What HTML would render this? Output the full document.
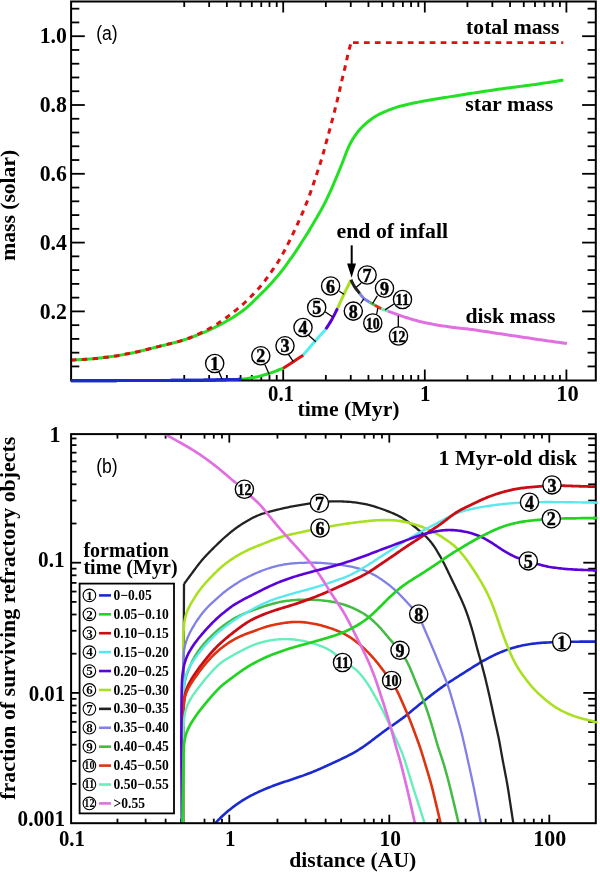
<!DOCTYPE html>
<html><head><meta charset="utf-8"><title>Mass evolution and surviving refractory objects</title>
<style>html,body{margin:0;padding:0;background:#fff;}body{width:600px;height:872px;overflow:hidden;font-family:"Liberation Serif",serif;}svg{display:block;will-change:transform;}</style>
</head><body>
<svg width="600" height="872" viewBox="0 0 600 872"><line x1="184.23" y1="380.50" x2="184.23" y2="375.00" stroke="#000" stroke-width="1.8" />
<line x1="184.23" y1="1.50" x2="184.23" y2="7.00" stroke="#000" stroke-width="1.8" />
<line x1="209.16" y1="380.50" x2="209.16" y2="375.00" stroke="#000" stroke-width="1.8" />
<line x1="209.16" y1="1.50" x2="209.16" y2="7.00" stroke="#000" stroke-width="1.8" />
<line x1="226.85" y1="380.50" x2="226.85" y2="375.00" stroke="#000" stroke-width="1.8" />
<line x1="226.85" y1="1.50" x2="226.85" y2="7.00" stroke="#000" stroke-width="1.8" />
<line x1="240.57" y1="380.50" x2="240.57" y2="375.00" stroke="#000" stroke-width="1.8" />
<line x1="240.57" y1="1.50" x2="240.57" y2="7.00" stroke="#000" stroke-width="1.8" />
<line x1="251.79" y1="380.50" x2="251.79" y2="375.00" stroke="#000" stroke-width="1.8" />
<line x1="251.79" y1="1.50" x2="251.79" y2="7.00" stroke="#000" stroke-width="1.8" />
<line x1="261.27" y1="380.50" x2="261.27" y2="375.00" stroke="#000" stroke-width="1.8" />
<line x1="261.27" y1="1.50" x2="261.27" y2="7.00" stroke="#000" stroke-width="1.8" />
<line x1="269.48" y1="380.50" x2="269.48" y2="375.00" stroke="#000" stroke-width="1.8" />
<line x1="269.48" y1="1.50" x2="269.48" y2="7.00" stroke="#000" stroke-width="1.8" />
<line x1="276.72" y1="380.50" x2="276.72" y2="375.00" stroke="#000" stroke-width="1.8" />
<line x1="276.72" y1="1.50" x2="276.72" y2="7.00" stroke="#000" stroke-width="1.8" />
<line x1="283.20" y1="380.50" x2="283.20" y2="369.50" stroke="#000" stroke-width="1.8" />
<line x1="283.20" y1="1.50" x2="283.20" y2="12.50" stroke="#000" stroke-width="1.8" />
<line x1="325.83" y1="380.50" x2="325.83" y2="375.00" stroke="#000" stroke-width="1.8" />
<line x1="325.83" y1="1.50" x2="325.83" y2="7.00" stroke="#000" stroke-width="1.8" />
<line x1="350.76" y1="380.50" x2="350.76" y2="375.00" stroke="#000" stroke-width="1.8" />
<line x1="350.76" y1="1.50" x2="350.76" y2="7.00" stroke="#000" stroke-width="1.8" />
<line x1="368.45" y1="380.50" x2="368.45" y2="375.00" stroke="#000" stroke-width="1.8" />
<line x1="368.45" y1="1.50" x2="368.45" y2="7.00" stroke="#000" stroke-width="1.8" />
<line x1="382.17" y1="380.50" x2="382.17" y2="375.00" stroke="#000" stroke-width="1.8" />
<line x1="382.17" y1="1.50" x2="382.17" y2="7.00" stroke="#000" stroke-width="1.8" />
<line x1="393.39" y1="380.50" x2="393.39" y2="375.00" stroke="#000" stroke-width="1.8" />
<line x1="393.39" y1="1.50" x2="393.39" y2="7.00" stroke="#000" stroke-width="1.8" />
<line x1="402.87" y1="380.50" x2="402.87" y2="375.00" stroke="#000" stroke-width="1.8" />
<line x1="402.87" y1="1.50" x2="402.87" y2="7.00" stroke="#000" stroke-width="1.8" />
<line x1="411.08" y1="380.50" x2="411.08" y2="375.00" stroke="#000" stroke-width="1.8" />
<line x1="411.08" y1="1.50" x2="411.08" y2="7.00" stroke="#000" stroke-width="1.8" />
<line x1="418.32" y1="380.50" x2="418.32" y2="375.00" stroke="#000" stroke-width="1.8" />
<line x1="418.32" y1="1.50" x2="418.32" y2="7.00" stroke="#000" stroke-width="1.8" />
<line x1="424.80" y1="380.50" x2="424.80" y2="369.50" stroke="#000" stroke-width="1.8" />
<line x1="424.80" y1="1.50" x2="424.80" y2="12.50" stroke="#000" stroke-width="1.8" />
<line x1="467.43" y1="380.50" x2="467.43" y2="375.00" stroke="#000" stroke-width="1.8" />
<line x1="467.43" y1="1.50" x2="467.43" y2="7.00" stroke="#000" stroke-width="1.8" />
<line x1="492.36" y1="380.50" x2="492.36" y2="375.00" stroke="#000" stroke-width="1.8" />
<line x1="492.36" y1="1.50" x2="492.36" y2="7.00" stroke="#000" stroke-width="1.8" />
<line x1="510.05" y1="380.50" x2="510.05" y2="375.00" stroke="#000" stroke-width="1.8" />
<line x1="510.05" y1="1.50" x2="510.05" y2="7.00" stroke="#000" stroke-width="1.8" />
<line x1="523.77" y1="380.50" x2="523.77" y2="375.00" stroke="#000" stroke-width="1.8" />
<line x1="523.77" y1="1.50" x2="523.77" y2="7.00" stroke="#000" stroke-width="1.8" />
<line x1="534.99" y1="380.50" x2="534.99" y2="375.00" stroke="#000" stroke-width="1.8" />
<line x1="534.99" y1="1.50" x2="534.99" y2="7.00" stroke="#000" stroke-width="1.8" />
<line x1="544.47" y1="380.50" x2="544.47" y2="375.00" stroke="#000" stroke-width="1.8" />
<line x1="544.47" y1="1.50" x2="544.47" y2="7.00" stroke="#000" stroke-width="1.8" />
<line x1="552.68" y1="380.50" x2="552.68" y2="375.00" stroke="#000" stroke-width="1.8" />
<line x1="552.68" y1="1.50" x2="552.68" y2="7.00" stroke="#000" stroke-width="1.8" />
<line x1="559.92" y1="380.50" x2="559.92" y2="375.00" stroke="#000" stroke-width="1.8" />
<line x1="559.92" y1="1.50" x2="559.92" y2="7.00" stroke="#000" stroke-width="1.8" />
<line x1="566.40" y1="380.50" x2="566.40" y2="369.50" stroke="#000" stroke-width="1.8" />
<line x1="566.40" y1="1.50" x2="566.40" y2="12.50" stroke="#000" stroke-width="1.8" />
<line x1="71.10" y1="366.44" x2="79.30" y2="366.44" stroke="#000" stroke-width="1.8" />
<line x1="595.80" y1="366.44" x2="587.60" y2="366.44" stroke="#000" stroke-width="1.8" />
<line x1="71.10" y1="352.68" x2="79.30" y2="352.68" stroke="#000" stroke-width="1.8" />
<line x1="595.80" y1="352.68" x2="587.60" y2="352.68" stroke="#000" stroke-width="1.8" />
<line x1="71.10" y1="338.92" x2="79.30" y2="338.92" stroke="#000" stroke-width="1.8" />
<line x1="595.80" y1="338.92" x2="587.60" y2="338.92" stroke="#000" stroke-width="1.8" />
<line x1="71.10" y1="325.16" x2="79.30" y2="325.16" stroke="#000" stroke-width="1.8" />
<line x1="595.80" y1="325.16" x2="587.60" y2="325.16" stroke="#000" stroke-width="1.8" />
<line x1="71.10" y1="311.40" x2="84.80" y2="311.40" stroke="#000" stroke-width="1.8" />
<line x1="595.80" y1="311.40" x2="582.10" y2="311.40" stroke="#000" stroke-width="1.8" />
<line x1="71.10" y1="297.64" x2="79.30" y2="297.64" stroke="#000" stroke-width="1.8" />
<line x1="595.80" y1="297.64" x2="587.60" y2="297.64" stroke="#000" stroke-width="1.8" />
<line x1="71.10" y1="283.88" x2="79.30" y2="283.88" stroke="#000" stroke-width="1.8" />
<line x1="595.80" y1="283.88" x2="587.60" y2="283.88" stroke="#000" stroke-width="1.8" />
<line x1="71.10" y1="270.12" x2="79.30" y2="270.12" stroke="#000" stroke-width="1.8" />
<line x1="595.80" y1="270.12" x2="587.60" y2="270.12" stroke="#000" stroke-width="1.8" />
<line x1="71.10" y1="256.36" x2="79.30" y2="256.36" stroke="#000" stroke-width="1.8" />
<line x1="595.80" y1="256.36" x2="587.60" y2="256.36" stroke="#000" stroke-width="1.8" />
<line x1="71.10" y1="242.60" x2="84.80" y2="242.60" stroke="#000" stroke-width="1.8" />
<line x1="595.80" y1="242.60" x2="582.10" y2="242.60" stroke="#000" stroke-width="1.8" />
<line x1="71.10" y1="228.84" x2="79.30" y2="228.84" stroke="#000" stroke-width="1.8" />
<line x1="595.80" y1="228.84" x2="587.60" y2="228.84" stroke="#000" stroke-width="1.8" />
<line x1="71.10" y1="215.08" x2="79.30" y2="215.08" stroke="#000" stroke-width="1.8" />
<line x1="595.80" y1="215.08" x2="587.60" y2="215.08" stroke="#000" stroke-width="1.8" />
<line x1="71.10" y1="201.32" x2="79.30" y2="201.32" stroke="#000" stroke-width="1.8" />
<line x1="595.80" y1="201.32" x2="587.60" y2="201.32" stroke="#000" stroke-width="1.8" />
<line x1="71.10" y1="187.56" x2="79.30" y2="187.56" stroke="#000" stroke-width="1.8" />
<line x1="595.80" y1="187.56" x2="587.60" y2="187.56" stroke="#000" stroke-width="1.8" />
<line x1="71.10" y1="173.80" x2="84.80" y2="173.80" stroke="#000" stroke-width="1.8" />
<line x1="595.80" y1="173.80" x2="582.10" y2="173.80" stroke="#000" stroke-width="1.8" />
<line x1="71.10" y1="160.04" x2="79.30" y2="160.04" stroke="#000" stroke-width="1.8" />
<line x1="595.80" y1="160.04" x2="587.60" y2="160.04" stroke="#000" stroke-width="1.8" />
<line x1="71.10" y1="146.28" x2="79.30" y2="146.28" stroke="#000" stroke-width="1.8" />
<line x1="595.80" y1="146.28" x2="587.60" y2="146.28" stroke="#000" stroke-width="1.8" />
<line x1="71.10" y1="132.52" x2="79.30" y2="132.52" stroke="#000" stroke-width="1.8" />
<line x1="595.80" y1="132.52" x2="587.60" y2="132.52" stroke="#000" stroke-width="1.8" />
<line x1="71.10" y1="118.76" x2="79.30" y2="118.76" stroke="#000" stroke-width="1.8" />
<line x1="595.80" y1="118.76" x2="587.60" y2="118.76" stroke="#000" stroke-width="1.8" />
<line x1="71.10" y1="105.00" x2="84.80" y2="105.00" stroke="#000" stroke-width="1.8" />
<line x1="595.80" y1="105.00" x2="582.10" y2="105.00" stroke="#000" stroke-width="1.8" />
<line x1="71.10" y1="91.24" x2="79.30" y2="91.24" stroke="#000" stroke-width="1.8" />
<line x1="595.80" y1="91.24" x2="587.60" y2="91.24" stroke="#000" stroke-width="1.8" />
<line x1="71.10" y1="77.48" x2="79.30" y2="77.48" stroke="#000" stroke-width="1.8" />
<line x1="595.80" y1="77.48" x2="587.60" y2="77.48" stroke="#000" stroke-width="1.8" />
<line x1="71.10" y1="63.72" x2="79.30" y2="63.72" stroke="#000" stroke-width="1.8" />
<line x1="595.80" y1="63.72" x2="587.60" y2="63.72" stroke="#000" stroke-width="1.8" />
<line x1="71.10" y1="49.96" x2="79.30" y2="49.96" stroke="#000" stroke-width="1.8" />
<line x1="595.80" y1="49.96" x2="587.60" y2="49.96" stroke="#000" stroke-width="1.8" />
<line x1="71.10" y1="36.20" x2="84.80" y2="36.20" stroke="#000" stroke-width="1.8" />
<line x1="595.80" y1="36.20" x2="582.10" y2="36.20" stroke="#000" stroke-width="1.8" />
<line x1="71.10" y1="22.44" x2="79.30" y2="22.44" stroke="#000" stroke-width="1.8" />
<line x1="595.80" y1="22.44" x2="587.60" y2="22.44" stroke="#000" stroke-width="1.8" />
<line x1="71.10" y1="8.68" x2="79.30" y2="8.68" stroke="#000" stroke-width="1.8" />
<line x1="595.80" y1="8.68" x2="587.60" y2="8.68" stroke="#000" stroke-width="1.8" />
<path d="M71.00,360.10 L72.50,360.02 L74.00,359.94 L75.49,359.86 L76.99,359.78 L78.49,359.70 L79.99,359.62 L81.49,359.54 L82.98,359.46 L84.48,359.38 L85.98,359.29 L87.48,359.20 L88.97,359.11 L90.47,359.00 L91.96,358.87 L93.45,358.73 L94.94,358.58 L96.44,358.41 L97.93,358.24 L99.41,358.07 L100.90,357.89 L102.39,357.71 L103.88,357.53 L105.37,357.35 L106.86,357.17 L108.35,356.98 L109.84,356.79 L111.32,356.59 L112.81,356.38 L114.29,356.16 L115.77,355.92 L117.25,355.67 L118.73,355.42 L120.20,355.16 L121.68,354.89 L123.16,354.63 L124.63,354.36 L126.11,354.10 L127.59,353.83 L129.06,353.56 L130.53,353.28 L132.01,353.00 L133.48,352.71 L134.94,352.40 L136.41,352.07 L137.87,351.73 L139.33,351.38 L140.78,351.03 L142.24,350.66 L143.69,350.30 L145.15,349.93 L146.60,349.56 L148.05,349.19 L149.51,348.82 L150.96,348.46 L152.42,348.09 L153.87,347.72 L155.33,347.36 L156.78,346.99 L158.24,346.63 L159.69,346.27 L161.15,345.91 L162.61,345.56 L164.06,345.20 L165.52,344.84 L166.98,344.49 L168.43,344.13 L169.89,343.77 L171.35,343.41 L172.80,343.06 L174.26,342.69 L175.71,342.32 L177.16,341.94 L178.61,341.55 L180.05,341.13 L181.48,340.70 L182.91,340.24 L184.33,339.78 L185.76,339.30 L187.17,338.81 L188.59,338.32 L190.00,337.82 L191.42,337.31 L192.82,336.79 L194.23,336.27 L195.63,335.73 L197.02,335.18 L198.42,334.63 L199.81,334.07 L201.20,333.51 L202.59,332.94 L203.97,332.36 L205.35,331.77 L206.73,331.17 L208.09,330.56 L209.46,329.94 L210.81,329.30 L212.17,328.66 L213.52,328.01 L214.87,327.36 L216.22,326.70 L217.56,326.03 L218.90,325.35 L220.23,324.65 L221.55,323.95 L222.86,323.23 L224.17,322.50 L225.48,321.76 L226.78,321.02 L228.08,320.27 L229.38,319.52 L230.67,318.75 L231.95,317.98 L233.22,317.18 L234.48,316.38 L235.74,315.55 L236.98,314.72 L238.22,313.87 L239.45,313.02 L240.68,312.16 L241.91,311.30 L243.12,310.42 L244.32,309.53 L245.51,308.61 L246.66,307.67 L247.80,306.70 L248.91,305.70 L250.00,304.67 L251.08,303.64 L252.16,302.59 L253.23,301.54 L254.30,300.49 L255.36,299.43 L256.43,298.38 L257.50,297.32 L258.57,296.27 L259.64,295.22 L260.71,294.17 L261.77,293.12 L262.84,292.06 L263.91,291.01 L264.97,289.95 L266.03,288.88 L267.07,287.81 L268.11,286.72 L269.13,285.63 L270.14,284.52 L271.14,283.40 L272.13,282.28 L273.12,281.15 L274.11,280.02 L275.09,278.89 L276.08,277.76 L277.06,276.63 L278.04,275.49 L279.01,274.35 L279.97,273.20 L280.92,272.04 L281.85,270.86 L282.77,269.68 L283.67,268.48 L284.56,267.27 L285.44,266.06 L286.31,264.84 L287.19,263.62 L288.06,262.40 L288.93,261.18 L289.80,259.96 L290.68,258.74 L291.55,257.52 L292.41,256.30 L293.27,255.07 L294.13,253.84 L294.97,252.60 L295.81,251.35 L296.64,250.10 L297.46,248.85 L298.28,247.59 L299.09,246.33 L299.90,245.07 L300.71,243.81 L301.52,242.55 L302.33,241.28 L303.15,240.02 L303.96,238.76 L304.76,237.50 L305.57,236.23 L306.37,234.97 L307.17,233.70 L307.96,232.42 L308.75,231.14 L309.52,229.86 L310.29,228.57 L311.06,227.28 L311.82,225.99 L312.58,224.69 L313.33,223.40 L314.09,222.11 L314.85,220.81 L315.61,219.52 L316.37,218.22 L317.12,216.93 L317.88,215.63 L318.64,214.34 L319.39,213.04 L320.13,211.74 L320.87,210.43 L321.60,209.12 L322.32,207.81 L323.02,206.48 L323.71,205.15 L324.40,203.82 L325.07,202.48 L325.74,201.14 L326.40,199.79 L327.06,198.44 L327.70,197.09 L328.34,195.73 L328.97,194.37 L329.59,193.00 L330.21,191.64 L330.83,190.27 L331.44,188.90 L332.05,187.53 L332.65,186.16 L333.25,184.78 L333.85,183.40 L334.43,182.03 L335.02,180.64 L335.60,179.26 L336.18,177.88 L336.76,176.50 L337.34,175.11 L337.92,173.73 L338.49,172.34 L339.06,170.95 L339.63,169.57 L340.20,168.18 L340.76,166.79 L341.32,165.39 L341.87,164.00 L342.43,162.61 L342.97,161.21 L343.52,159.81 L344.05,158.41 L344.58,157.01 L345.12,155.61 L345.65,154.21 L346.19,152.81 L346.74,151.41 L347.30,150.02 L347.88,148.64 L348.48,147.27 L349.10,145.90 L349.75,144.56 L350.43,143.23 L351.14,141.91 L351.89,140.62 L352.66,139.33 L353.46,138.07 L354.27,136.81 L355.11,135.57 L355.98,134.35 L356.87,133.15 L357.78,131.96 L358.73,130.80 L359.69,129.66 L360.69,128.55 L361.72,127.47 L362.78,126.41 L363.86,125.38 L364.97,124.37 L366.09,123.39 L367.24,122.42 L368.39,121.47 L369.57,120.54 L370.76,119.63 L371.96,118.74 L373.19,117.88 L374.43,117.05 L375.69,116.25 L376.97,115.49 L378.28,114.77 L379.61,114.09 L380.96,113.45 L382.32,112.83 L383.69,112.23 L385.07,111.65 L386.46,111.07 L387.84,110.49 L389.23,109.92 L390.62,109.37 L392.02,108.82 L393.42,108.30 L394.83,107.81 L396.26,107.36 L397.69,106.93 L399.13,106.53 L400.58,106.15 L402.03,105.78 L403.49,105.42 L404.95,105.06 L406.40,104.70 L407.86,104.35 L409.32,104.00 L410.78,103.66 L412.24,103.33 L413.71,103.02 L415.18,102.72 L416.65,102.43 L418.12,102.15 L419.60,101.87 L421.07,101.61 L422.55,101.34 L424.02,101.08 L425.50,100.81 L426.98,100.55 L428.46,100.29 L429.93,100.04 L431.41,99.79 L432.89,99.54 L434.37,99.29 L435.85,99.05 L437.33,98.81 L438.81,98.57 L440.29,98.32 L441.77,98.08 L443.25,97.84 L444.73,97.60 L446.22,97.36 L447.70,97.12 L449.18,96.88 L450.66,96.64 L452.14,96.39 L453.62,96.15 L455.10,95.91 L456.58,95.67 L458.06,95.43 L459.54,95.19 L461.02,94.95 L462.50,94.71 L463.98,94.48 L465.46,94.25 L466.95,94.01 L468.43,93.79 L469.91,93.56 L471.39,93.33 L472.88,93.11 L474.36,92.88 L475.84,92.66 L477.33,92.43 L478.81,92.21 L480.29,91.98 L481.78,91.76 L483.26,91.53 L484.74,91.31 L486.23,91.09 L487.71,90.86 L489.19,90.64 L490.67,90.41 L492.16,90.19 L493.64,89.96 L495.12,89.74 L496.61,89.52 L498.09,89.31 L499.58,89.10 L501.06,88.89 L502.55,88.69 L504.04,88.49 L505.52,88.29 L507.01,88.10 L508.50,87.91 L509.99,87.72 L511.47,87.52 L512.96,87.33 L514.45,87.14 L515.94,86.95 L517.43,86.76 L518.91,86.57 L520.40,86.38 L521.89,86.19 L523.38,85.99 L524.86,85.80 L526.35,85.61 L527.84,85.42 L529.33,85.23 L530.81,85.03 L532.30,84.83 L533.79,84.63 L535.27,84.42 L536.76,84.21 L538.24,83.99 L539.72,83.77 L541.21,83.54 L542.69,83.32 L544.17,83.09 L545.66,82.86 L547.14,82.63 L548.62,82.40 L550.10,82.18 L551.59,81.95 L553.07,81.72 L554.55,81.49 L556.03,81.26 L557.52,81.04 L559.00,80.81 L560.48,80.58 L561.96,80.35 L563.45,80.12" fill="none" stroke="#22e022" stroke-width="3" stroke-linejoin="round" />
<path d="M71.00,360.10 L72.50,360.02 L74.00,359.94 L75.49,359.86 L76.99,359.78 L78.49,359.70 L79.99,359.62 L81.48,359.54 L82.98,359.46 L84.48,359.37 L85.98,359.28 L87.47,359.19 L88.97,359.08 L90.46,358.97 L91.96,358.84 L93.45,358.71 L94.94,358.56 L96.43,358.40 L97.92,358.23 L99.41,358.06 L100.90,357.89 L102.39,357.71 L103.88,357.53 L105.37,357.35 L106.86,357.16 L108.35,356.97 L109.83,356.78 L111.32,356.57 L112.80,356.36 L114.29,356.13 L115.77,355.90 L117.25,355.66 L118.72,355.40 L120.20,355.15 L121.68,354.89 L123.16,354.63 L124.63,354.36 L126.11,354.09 L127.58,353.82 L129.06,353.55 L130.53,353.27 L132.00,352.98 L133.47,352.68 L134.94,352.37 L136.40,352.05 L137.86,351.71 L139.32,351.37 L140.78,351.01 L142.24,350.66 L143.69,350.29 L145.15,349.93 L146.60,349.56 L148.05,349.19 L149.51,348.82 L150.96,348.46 L152.42,348.09 L153.87,347.72 L155.33,347.35 L156.78,346.99 L158.24,346.62 L159.69,346.26 L161.15,345.90 L162.60,345.53 L164.06,345.17 L165.51,344.81 L166.97,344.44 L168.42,344.08 L169.88,343.72 L171.33,343.35 L172.79,342.99 L174.24,342.62 L175.69,342.25 L177.14,341.87 L178.59,341.48 L180.03,341.07 L181.47,340.65 L182.91,340.22 L184.33,339.76 L185.75,339.29 L187.17,338.79 L188.58,338.28 L189.98,337.75 L191.37,337.21 L192.76,336.64 L194.13,336.05 L195.50,335.44 L196.87,334.82 L198.22,334.18 L199.57,333.53 L200.92,332.88 L202.27,332.21 L203.61,331.54 L204.95,330.87 L206.28,330.18 L207.61,329.49 L208.93,328.78 L210.24,328.06 L211.55,327.32 L212.84,326.57 L214.13,325.80 L215.41,325.02 L216.68,324.22 L217.94,323.41 L219.19,322.59 L220.43,321.75 L221.67,320.91 L222.91,320.06 L224.13,319.19 L225.35,318.32 L226.56,317.44 L227.77,316.55 L228.97,315.65 L230.17,314.74 L231.35,313.83 L232.53,312.90 L233.71,311.97 L234.88,311.03 L236.04,310.09 L237.20,309.14 L238.35,308.18 L239.50,307.21 L240.64,306.24 L241.77,305.25 L242.90,304.26 L244.01,303.26 L245.12,302.25 L246.21,301.23 L247.30,300.19 L248.37,299.14 L249.43,298.09 L250.49,297.02 L251.54,295.95 L252.58,294.88 L253.62,293.80 L254.66,292.71 L255.69,291.63 L256.72,290.54 L257.74,289.44 L258.76,288.34 L259.76,287.22 L260.74,286.09 L261.70,284.95 L262.64,283.78 L263.56,282.60 L264.46,281.41 L265.35,280.20 L266.22,278.99 L267.09,277.76 L267.96,276.54 L268.83,275.32 L269.69,274.09 L270.56,272.87 L271.43,271.65 L272.29,270.42 L273.15,269.19 L274.00,267.96 L274.85,266.72 L275.69,265.48 L276.51,264.23 L277.33,262.97 L278.13,261.70 L278.93,260.43 L279.71,259.15 L280.48,257.87 L281.23,256.57 L281.98,255.27 L282.71,253.96 L283.43,252.65 L284.14,251.33 L284.84,250.00 L285.54,248.67 L286.23,247.34 L286.92,246.01 L287.60,244.68 L288.28,243.34 L288.96,242.00 L289.63,240.66 L290.29,239.31 L290.95,237.97 L291.61,236.62 L292.26,235.27 L292.90,233.91 L293.55,232.56 L294.18,231.20 L294.82,229.84 L295.46,228.48 L296.09,227.12 L296.72,225.76 L297.35,224.40 L297.97,223.04 L298.59,221.67 L299.21,220.30 L299.83,218.94 L300.44,217.57 L301.04,216.19 L301.64,214.82 L302.24,213.44 L302.83,212.06 L303.41,210.68 L303.99,209.30 L304.57,207.91 L305.14,206.53 L305.70,205.14 L306.25,203.74 L306.80,202.35 L307.35,200.95 L307.89,199.55 L308.42,198.15 L308.94,196.74 L309.46,195.33 L309.97,193.92 L310.47,192.51 L310.97,191.10 L311.47,189.68 L311.96,188.26 L312.45,186.85 L312.93,185.43 L313.41,184.00 L313.88,182.58 L314.36,181.16 L314.83,179.74 L315.31,178.31 L315.79,176.89 L316.26,175.47 L316.74,174.05 L317.22,172.63 L317.69,171.20 L318.17,169.78 L318.64,168.36 L319.11,166.93 L319.57,165.50 L320.03,164.08 L320.48,162.65 L320.92,161.21 L321.36,159.78 L321.80,158.34 L322.22,156.91 L322.64,155.47 L323.05,154.02 L323.45,152.58 L323.85,151.13 L324.25,149.69 L324.64,148.24 L325.03,146.79 L325.42,145.34 L325.81,143.89 L326.20,142.45 L326.59,141.00 L326.99,139.55 L327.38,138.10 L327.78,136.66 L328.17,135.21 L328.57,133.76 L328.97,132.32 L329.37,130.87 L329.76,129.42 L330.16,127.98 L330.55,126.53 L330.94,125.08 L331.33,123.63 L331.71,122.18 L332.09,120.73 L332.47,119.28 L332.84,117.83 L333.21,116.37 L333.59,114.92 L333.96,113.47 L334.33,112.01 L334.70,110.56 L335.06,109.11 L335.43,107.65 L335.80,106.20 L336.17,104.74 L336.53,103.29 L336.89,101.83 L337.25,100.38 L337.61,98.92 L337.96,97.46 L338.31,96.00 L338.66,94.54 L339.00,93.08 L339.33,91.62 L339.67,90.16 L340.00,88.69 L340.32,87.23 L340.65,85.77 L340.98,84.30 L341.32,82.84 L341.66,81.38 L342.00,79.92 L342.35,78.46 L342.71,77.01 L343.06,75.55 L343.42,74.09 L343.78,72.64 L344.13,71.18 L344.47,69.72 L344.82,68.26 L345.15,66.80 L345.49,65.34 L345.82,63.87 L346.14,62.41 L346.47,60.94 L346.79,59.48 L347.11,58.01 L347.43,56.55 L347.75,55.08 L348.09,53.62 L348.44,52.17 L348.80,50.72 L349.18,49.27 L349.59,47.83 L350.01,46.40 L350.45,44.97 L350.90,43.55 L351.20,42.60" fill="none" stroke="#dd1111" stroke-width="3" stroke-linejoin="round" stroke-dasharray="5.5 5.3"/>
<line x1="351.20" y1="42.60" x2="563.30" y2="42.60" stroke="#dd1111" stroke-width="2.6" stroke-dasharray="5.7 5.26" stroke-dashoffset="-1.8"/>
<path d="M71.00,380.80 L72.50,380.79 L74.00,380.79 L75.50,380.78 L77.00,380.78 L78.50,380.77 L80.00,380.77 L81.50,380.76 L83.00,380.75 L84.50,380.75 L86.00,380.74 L87.50,380.74 L89.00,380.73 L90.50,380.73 L92.00,380.72 L93.50,380.71 L95.00,380.71 L96.50,380.70 L98.00,380.70 L99.50,380.69 L101.00,380.69 L102.50,380.68 L104.00,380.67 L105.50,380.67 L107.00,380.66 L108.50,380.66 L110.00,380.65 L111.50,380.65 L113.00,380.64 L114.50,380.63 L116.00,380.63 L117.50,380.62 L119.00,380.62 L120.50,380.61 L122.00,380.61 L123.50,380.60 L125.00,380.59 L126.50,380.59 L128.00,380.58 L129.50,380.58 L131.00,380.57 L132.50,380.57 L134.00,380.56 L135.50,380.56 L137.00,380.55 L138.50,380.54 L140.00,380.54 L141.50,380.53 L143.00,380.53 L144.50,380.52 L146.00,380.51 L147.50,380.51 L149.00,380.50 L150.50,380.49 L152.00,380.49 L153.50,380.48 L155.00,380.47 L156.50,380.46 L158.00,380.45 L159.50,380.44 L161.00,380.43 L162.50,380.43 L164.00,380.42 L165.50,380.41 L167.00,380.40 L168.50,380.39 L170.00,380.38 L171.50,380.37 L173.00,380.36 L174.50,380.35 L176.00,380.34 L177.50,380.34 L179.00,380.33 L180.50,380.32 L182.00,380.31 L183.50,380.30 L185.00,380.29 L186.50,380.28 L188.00,380.27 L189.50,380.26 L191.00,380.25 L192.50,380.24 L194.00,380.23 L195.50,380.22 L197.00,380.21 L198.50,380.19 L200.00,380.18 L201.50,380.15 L203.00,380.13 L204.50,380.10 L206.00,380.07 L207.50,380.04 L209.00,380.01 L210.50,379.97 L212.00,379.94 L213.50,379.91 L215.00,379.88 L216.49,379.84 L217.99,379.81 L219.49,379.78 L220.99,379.75 L222.49,379.71 L223.99,379.68 L225.49,379.65 L226.99,379.62 L228.49,379.59 L229.99,379.55 L231.49,379.52 L232.99,379.49 L234.49,379.46 L235.99,379.42 L237.49,379.39 L238.99,379.36 L240.49,379.33 L241.49,379.30" fill="none" stroke="#1c2ccc" stroke-width="3" stroke-linejoin="round" stroke-linecap="butt"/>
<path d="M241.70,379.30 L243.19,379.10 L244.67,378.90 L246.16,378.69 L247.64,378.49 L249.13,378.28 L250.61,378.06 L252.09,377.82 L253.56,377.56 L255.03,377.27 L256.49,376.95 L257.95,376.60 L259.40,376.23 L260.85,375.84 L262.30,375.45 L263.74,375.04 L265.18,374.63 L266.62,374.21 L268.05,373.77 L269.48,373.31 L270.90,372.84 L272.32,372.34 L273.72,371.83 L275.13,371.31 L276.53,370.78 L277.92,370.25 L279.31,369.72 L280.70,369.18 L282.08,368.65 L283.00,368.30" fill="none" stroke="#22dd22" stroke-width="3" stroke-linejoin="round" stroke-linecap="butt"/>
<path d="M283.00,368.30 C284.72,367.20 289.92,363.92 293.30,361.70 C296.68,359.48 301.63,356.12 303.30,355.00" fill="none" stroke="#dd1111" stroke-width="3" stroke-linejoin="round" stroke-linecap="butt"/>
<path d="M303.30,355.00 C304.97,353.05 309.55,347.60 313.30,343.30 C317.05,339.00 323.72,331.55 325.80,329.20" fill="none" stroke="#55eeee" stroke-width="3" stroke-linejoin="round" stroke-linecap="butt"/>
<path d="M325.80,329.20 C326.88,327.45 330.33,322.20 332.30,318.70 C334.27,315.20 336.72,309.95 337.60,308.20" fill="none" stroke="#5a00d8" stroke-width="3" stroke-linejoin="round" stroke-linecap="butt"/>
<path d="M337.60,308.20 C338.67,305.87 341.77,298.93 344.00,294.20 C346.23,289.47 349.83,282.20 351.00,279.80" fill="none" stroke="#aae022" stroke-width="3" stroke-linejoin="round" stroke-linecap="butt"/>
<path d="M351.00,279.80 C351.58,280.93 353.03,284.30 354.50,286.60 C355.97,288.90 358.92,292.43 359.80,293.60" fill="none" stroke="#222222" stroke-width="3" stroke-linejoin="round" stroke-linecap="butt"/>
<path d="M359.80,293.60 C360.47,294.38 362.15,296.85 363.80,298.30 C365.45,299.75 368.72,301.63 369.70,302.30" fill="none" stroke="#8080e8" stroke-width="3" stroke-linejoin="round" stroke-linecap="butt"/>
<path d="M369.70,302.30 L374.90,305.30" fill="none" stroke="#44bb44" stroke-width="3" stroke-linejoin="round" stroke-linecap="butt"/>
<path d="M374.90,305.30 L381.30,308.80" fill="none" stroke="#dd3311" stroke-width="3" stroke-linejoin="round" stroke-linecap="butt"/>
<path d="M381.30,308.80 L387.80,311.10" fill="none" stroke="#66eebb" stroke-width="3" stroke-linejoin="round" stroke-linecap="butt"/>
<path d="M387.80,311.10 L389.21,311.61 L390.62,312.12 L392.03,312.63 L393.44,313.14 L394.85,313.65 L396.27,314.16 L397.68,314.66 L399.09,315.16 L400.51,315.66 L401.92,316.15 L403.35,316.62 L404.77,317.09 L406.20,317.54 L407.63,317.98 L409.07,318.42 L410.50,318.85 L411.94,319.28 L413.38,319.71 L414.82,320.13 L416.26,320.55 L417.70,320.95 L419.15,321.33 L420.61,321.69 L422.06,322.03 L423.53,322.36 L424.99,322.67 L426.46,322.97 L427.93,323.26 L429.41,323.56 L430.88,323.84 L432.35,324.13 L433.82,324.41 L435.30,324.68 L436.78,324.94 L438.25,325.19 L439.73,325.43 L441.22,325.67 L442.70,325.90 L444.18,326.12 L445.66,326.35 L447.15,326.57 L448.63,326.79 L450.12,327.00 L451.60,327.20 L453.09,327.40 L454.58,327.58 L456.07,327.75 L457.56,327.92 L459.05,328.08 L460.54,328.23 L462.03,328.39 L463.52,328.54 L465.02,328.70 L466.51,328.86 L468.00,329.03 L469.48,329.21 L470.97,329.40 L472.46,329.61 L473.94,329.81 L475.43,330.03 L476.91,330.25 L478.39,330.47 L479.88,330.70 L481.36,330.92 L482.84,331.15 L484.33,331.37 L485.81,331.60 L487.29,331.82 L488.78,332.05 L490.26,332.27 L491.74,332.50 L493.22,332.72 L494.71,332.95 L496.19,333.17 L497.67,333.40 L499.16,333.62 L500.64,333.84 L502.12,334.07 L503.61,334.29 L505.09,334.51 L506.57,334.74 L508.06,334.96 L509.54,335.18 L511.02,335.40 L512.51,335.63 L513.99,335.85 L515.47,336.07 L516.96,336.29 L518.44,336.52 L519.92,336.74 L521.41,336.96 L522.89,337.18 L524.37,337.41 L525.86,337.63 L527.34,337.85 L528.82,338.07 L530.31,338.30 L531.79,338.52 L533.28,338.74 L534.76,338.96 L536.24,339.19 L537.73,339.41 L539.21,339.63 L540.69,339.85 L542.18,340.07 L543.66,340.29 L545.15,340.50 L546.63,340.71 L548.12,340.92 L549.60,341.12 L551.09,341.33 L552.57,341.53 L554.06,341.74 L555.55,341.94 L557.03,342.14 L558.52,342.34 L560.01,342.55 L561.49,342.75 L562.98,342.95 L564.46,343.15 L565.95,343.36 L566.94,343.49" fill="none" stroke="#e070e0" stroke-width="3" stroke-linejoin="round" stroke-linecap="butt"/>
<rect x="71.10" y="1.50" width="524.70" height="379.00" fill="none" stroke="#000" stroke-width="2"/>
<path d="M71.00,380.80 L72.50,380.79 L74.00,380.79 L75.50,380.78 L77.00,380.78 L78.50,380.77 L80.00,380.77 L81.50,380.76 L83.00,380.75 L84.50,380.75 L86.00,380.74 L87.50,380.74 L89.00,380.73 L90.50,380.73 L92.00,380.72 L93.50,380.71 L95.00,380.71 L96.50,380.70 L98.00,380.70 L99.50,380.69 L101.00,380.69 L102.50,380.68 L104.00,380.67 L105.50,380.67 L107.00,380.66 L108.50,380.66 L110.00,380.65 L111.50,380.65 L113.00,380.64 L114.50,380.63 L116.00,380.63 L117.50,380.62 L119.00,380.62 L120.50,380.61 L122.00,380.61 L123.50,380.60 L125.00,380.59 L126.50,380.59 L128.00,380.58 L129.50,380.58 L131.00,380.57 L132.50,380.57 L134.00,380.56 L135.50,380.56 L137.00,380.55 L138.50,380.54 L140.00,380.54 L141.50,380.53 L143.00,380.53 L144.50,380.52 L146.00,380.51 L147.50,380.51 L149.00,380.50 L150.50,380.49 L152.00,380.49 L153.50,380.48 L155.00,380.47 L156.50,380.46 L158.00,380.45 L159.50,380.44 L161.00,380.43 L162.50,380.43 L164.00,380.42 L165.50,380.41 L167.00,380.40 L168.50,380.39 L170.00,380.38 L171.50,380.37 L173.00,380.36 L174.50,380.35 L176.00,380.34 L177.50,380.34 L179.00,380.33 L180.50,380.32 L182.00,380.31 L183.50,380.30 L185.00,380.29 L186.50,380.28 L188.00,380.27 L189.50,380.26 L191.00,380.25 L192.50,380.24 L194.00,380.23 L195.50,380.22 L197.00,380.21 L198.50,380.19 L200.00,380.18 L201.50,380.15 L203.00,380.13 L204.50,380.10 L206.00,380.07 L207.50,380.04 L209.00,380.01 L210.50,379.97 L212.00,379.94 L213.50,379.91 L215.00,379.88 L216.49,379.84 L217.99,379.81 L219.49,379.78 L220.99,379.75 L222.49,379.71 L223.99,379.68 L225.49,379.65 L226.99,379.62 L228.49,379.59 L229.99,379.55 L231.49,379.52 L232.99,379.49 L234.49,379.46 L235.99,379.42 L237.49,379.39 L238.99,379.36 L240.49,379.33 L241.49,379.30" fill="none" stroke="#1c2ccc" stroke-width="3" stroke-linejoin="round" />
<line x1="219.00" y1="372.00" x2="222.00" y2="379.00" stroke="#000" stroke-width="1.3" />
<line x1="265.00" y1="364.70" x2="269.20" y2="374.20" stroke="#000" stroke-width="1.3" />
<line x1="288.30" y1="354.20" x2="293.30" y2="361.70" stroke="#000" stroke-width="1.3" />
<line x1="308.30" y1="335.00" x2="315.80" y2="341.70" stroke="#000" stroke-width="1.3" />
<line x1="325.00" y1="311.70" x2="332.50" y2="316.70" stroke="#000" stroke-width="1.3" />
<line x1="339.30" y1="291.30" x2="344.00" y2="294.20" stroke="#000" stroke-width="1.3" />
<line x1="361.30" y1="283.10" x2="356.30" y2="287.20" stroke="#000" stroke-width="1.3" />
<line x1="360.60" y1="303.50" x2="363.80" y2="298.80" stroke="#000" stroke-width="1.3" />
<line x1="377.30" y1="295.90" x2="372.60" y2="303.50" stroke="#000" stroke-width="1.3" />
<line x1="377.80" y1="308.20" x2="376.70" y2="314.00" stroke="#000" stroke-width="1.3" />
<line x1="394.80" y1="303.50" x2="385.00" y2="309.90" stroke="#000" stroke-width="1.3" />
<line x1="398.30" y1="315.80" x2="398.30" y2="327.00" stroke="#000" stroke-width="1.3" />
<circle cx="214.70" cy="363.50" r="9.10" fill="#fff" stroke="#000" stroke-width="1.35"/>
<text x="214.70" y="370.10" font-family="'Liberation Serif', serif" font-weight="bold" font-size="18" text-anchor="middle" stroke="#000" stroke-width="0.45">1</text>
<circle cx="260.80" cy="355.80" r="9.10" fill="#fff" stroke="#000" stroke-width="1.35"/>
<text x="260.80" y="362.40" font-family="'Liberation Serif', serif" font-weight="bold" font-size="18" text-anchor="middle" stroke="#000" stroke-width="0.45">2</text>
<circle cx="285.00" cy="345.80" r="9.10" fill="#fff" stroke="#000" stroke-width="1.35"/>
<text x="285.00" y="352.40" font-family="'Liberation Serif', serif" font-weight="bold" font-size="18" text-anchor="middle" stroke="#000" stroke-width="0.45">3</text>
<circle cx="303.00" cy="327.50" r="9.10" fill="#fff" stroke="#000" stroke-width="1.35"/>
<text x="303.00" y="334.10" font-family="'Liberation Serif', serif" font-weight="bold" font-size="18" text-anchor="middle" stroke="#000" stroke-width="0.45">4</text>
<circle cx="316.70" cy="307.50" r="9.10" fill="#fff" stroke="#000" stroke-width="1.35"/>
<text x="316.70" y="314.10" font-family="'Liberation Serif', serif" font-weight="bold" font-size="18" text-anchor="middle" stroke="#000" stroke-width="0.45">5</text>
<circle cx="330.60" cy="286.00" r="9.10" fill="#fff" stroke="#000" stroke-width="1.35"/>
<text x="330.60" y="292.60" font-family="'Liberation Serif', serif" font-weight="bold" font-size="18" text-anchor="middle" stroke="#000" stroke-width="0.45">6</text>
<circle cx="367.10" cy="275.00" r="9.10" fill="#fff" stroke="#000" stroke-width="1.35"/>
<text x="367.10" y="281.60" font-family="'Liberation Serif', serif" font-weight="bold" font-size="18" text-anchor="middle" stroke="#000" stroke-width="0.45">7</text>
<circle cx="353.30" cy="311.10" r="9.10" fill="#fff" stroke="#000" stroke-width="1.35"/>
<text x="353.30" y="317.70" font-family="'Liberation Serif', serif" font-weight="bold" font-size="18" text-anchor="middle" stroke="#000" stroke-width="0.45">8</text>
<circle cx="384.50" cy="288.30" r="9.10" fill="#fff" stroke="#000" stroke-width="1.35"/>
<text x="384.50" y="294.90" font-family="'Liberation Serif', serif" font-weight="bold" font-size="18" text-anchor="middle" stroke="#000" stroke-width="0.45">9</text>
<circle cx="372.80" cy="323.00" r="9.10" fill="#fff" stroke="#000" stroke-width="1.35"/>
<text x="372.80" y="328.60" font-family="'Liberation Serif', serif" font-weight="bold" font-size="16.5" text-anchor="middle" textLength="13.8" lengthAdjust="spacingAndGlyphs" stroke="#000" stroke-width="0.45">10</text>
<circle cx="402.50" cy="299.50" r="9.10" fill="#fff" stroke="#000" stroke-width="1.35"/>
<text x="402.50" y="305.10" font-family="'Liberation Serif', serif" font-weight="bold" font-size="16.5" text-anchor="middle" textLength="13.8" lengthAdjust="spacingAndGlyphs" stroke="#000" stroke-width="0.45">11</text>
<circle cx="398.50" cy="336.00" r="9.10" fill="#fff" stroke="#000" stroke-width="1.35"/>
<text x="398.50" y="341.60" font-family="'Liberation Serif', serif" font-weight="bold" font-size="16.5" text-anchor="middle" textLength="13.8" lengthAdjust="spacingAndGlyphs" stroke="#000" stroke-width="0.45">12</text>
<line x1="351.70" y1="245.30" x2="351.70" y2="266.00" stroke="#000" stroke-width="2" />
<polygon points="347.1,263.4 356,263.4 351.6,277.8" fill="#000"/>
<text x="96.20" y="40.00" font-family="'Liberation Sans', sans-serif" font-weight="normal" font-size="19.5" text-anchor="start" textLength="21.5" lengthAdjust="spacingAndGlyphs" >(a)</text>
<text x="66.90" y="43.40" font-family="'Liberation Serif', serif" font-weight="bold" font-size="22.5" text-anchor="end" textLength="27.2" lengthAdjust="spacingAndGlyphs" >1.0</text>
<text x="66.90" y="112.20" font-family="'Liberation Serif', serif" font-weight="bold" font-size="22.5" text-anchor="end" textLength="27.2" lengthAdjust="spacingAndGlyphs" >0.8</text>
<text x="66.90" y="181.00" font-family="'Liberation Serif', serif" font-weight="bold" font-size="22.5" text-anchor="end" textLength="27.2" lengthAdjust="spacingAndGlyphs" >0.6</text>
<text x="66.90" y="249.80" font-family="'Liberation Serif', serif" font-weight="bold" font-size="22.5" text-anchor="end" textLength="27.2" lengthAdjust="spacingAndGlyphs" >0.4</text>
<text x="66.90" y="318.60" font-family="'Liberation Serif', serif" font-weight="bold" font-size="22.5" text-anchor="end" textLength="27.2" lengthAdjust="spacingAndGlyphs" >0.2</text>
<text x="268.00" y="400.50" font-family="'Liberation Serif', serif" font-weight="bold" font-size="22.5" text-anchor="start" textLength="26.0" lengthAdjust="spacingAndGlyphs" >0.1</text>
<text x="425.30" y="400.50" font-family="'Liberation Serif', serif" font-weight="bold" font-size="22.5" text-anchor="middle" textLength="10.5" lengthAdjust="spacingAndGlyphs" >1</text>
<text x="567.60" y="400.50" font-family="'Liberation Serif', serif" font-weight="bold" font-size="22.5" text-anchor="middle" textLength="22.5" lengthAdjust="spacingAndGlyphs" >10</text>
<text x="297.60" y="416.00" font-family="'Liberation Serif', serif" font-weight="bold" font-size="21.3" text-anchor="start" textLength="102.0" lengthAdjust="spacingAndGlyphs" >time (Myr)</text>
<text x="466.10" y="34.30" font-family="'Liberation Serif', serif" font-weight="bold" font-size="20.8" text-anchor="start" textLength="93.3" lengthAdjust="spacingAndGlyphs" >total mass</text>
<text x="465.30" y="111.20" font-family="'Liberation Serif', serif" font-weight="bold" font-size="20.8" text-anchor="start" textLength="88.0" lengthAdjust="spacingAndGlyphs" >star mass</text>
<text x="465.50" y="323.20" font-family="'Liberation Serif', serif" font-weight="bold" font-size="20.8" text-anchor="start" textLength="90.0" lengthAdjust="spacingAndGlyphs" >disk mass</text>
<text x="336.50" y="238.40" font-family="'Liberation Serif', serif" font-weight="bold" font-size="20.3" text-anchor="start" textLength="111.6" lengthAdjust="spacingAndGlyphs" >end of infall</text>
<text transform="translate(14.9,205.3) rotate(-90)" x="0" y="0" font-family="'Liberation Serif', serif" font-weight="bold" font-size="21.5" text-anchor="middle" textLength="111" lengthAdjust="spacingAndGlyphs">mass (solar)</text>
<defs><clipPath id="cb"><rect x="71.10" y="434.10" width="524.70" height="389.10"/></clipPath></defs>
<line x1="117.46" y1="823.20" x2="117.46" y2="818.70" stroke="#000" stroke-width="1.8" />
<line x1="117.46" y1="434.10" x2="117.46" y2="438.60" stroke="#000" stroke-width="1.8" />
<line x1="145.64" y1="823.20" x2="145.64" y2="818.70" stroke="#000" stroke-width="1.8" />
<line x1="145.64" y1="434.10" x2="145.64" y2="438.60" stroke="#000" stroke-width="1.8" />
<line x1="165.63" y1="823.20" x2="165.63" y2="818.70" stroke="#000" stroke-width="1.8" />
<line x1="165.63" y1="434.10" x2="165.63" y2="438.60" stroke="#000" stroke-width="1.8" />
<line x1="181.14" y1="823.20" x2="181.14" y2="818.70" stroke="#000" stroke-width="1.8" />
<line x1="181.14" y1="434.10" x2="181.14" y2="438.60" stroke="#000" stroke-width="1.8" />
<line x1="204.52" y1="823.20" x2="204.52" y2="818.70" stroke="#000" stroke-width="1.8" />
<line x1="204.52" y1="434.10" x2="204.52" y2="438.60" stroke="#000" stroke-width="1.8" />
<line x1="213.79" y1="823.20" x2="213.79" y2="818.70" stroke="#000" stroke-width="1.8" />
<line x1="213.79" y1="434.10" x2="213.79" y2="438.60" stroke="#000" stroke-width="1.8" />
<line x1="221.98" y1="823.20" x2="221.98" y2="818.70" stroke="#000" stroke-width="1.8" />
<line x1="221.98" y1="434.10" x2="221.98" y2="438.60" stroke="#000" stroke-width="1.8" />
<line x1="229.30" y1="823.20" x2="229.30" y2="814.70" stroke="#000" stroke-width="1.8" />
<line x1="229.30" y1="434.10" x2="229.30" y2="442.60" stroke="#000" stroke-width="1.8" />
<line x1="277.46" y1="823.20" x2="277.46" y2="818.70" stroke="#000" stroke-width="1.8" />
<line x1="277.46" y1="434.10" x2="277.46" y2="438.60" stroke="#000" stroke-width="1.8" />
<line x1="305.64" y1="823.20" x2="305.64" y2="818.70" stroke="#000" stroke-width="1.8" />
<line x1="305.64" y1="434.10" x2="305.64" y2="438.60" stroke="#000" stroke-width="1.8" />
<line x1="325.63" y1="823.20" x2="325.63" y2="818.70" stroke="#000" stroke-width="1.8" />
<line x1="325.63" y1="434.10" x2="325.63" y2="438.60" stroke="#000" stroke-width="1.8" />
<line x1="341.14" y1="823.20" x2="341.14" y2="818.70" stroke="#000" stroke-width="1.8" />
<line x1="341.14" y1="434.10" x2="341.14" y2="438.60" stroke="#000" stroke-width="1.8" />
<line x1="364.52" y1="823.20" x2="364.52" y2="818.70" stroke="#000" stroke-width="1.8" />
<line x1="364.52" y1="434.10" x2="364.52" y2="438.60" stroke="#000" stroke-width="1.8" />
<line x1="373.79" y1="823.20" x2="373.79" y2="818.70" stroke="#000" stroke-width="1.8" />
<line x1="373.79" y1="434.10" x2="373.79" y2="438.60" stroke="#000" stroke-width="1.8" />
<line x1="381.98" y1="823.20" x2="381.98" y2="818.70" stroke="#000" stroke-width="1.8" />
<line x1="381.98" y1="434.10" x2="381.98" y2="438.60" stroke="#000" stroke-width="1.8" />
<line x1="389.30" y1="823.20" x2="389.30" y2="814.70" stroke="#000" stroke-width="1.8" />
<line x1="389.30" y1="434.10" x2="389.30" y2="442.60" stroke="#000" stroke-width="1.8" />
<line x1="437.46" y1="823.20" x2="437.46" y2="818.70" stroke="#000" stroke-width="1.8" />
<line x1="437.46" y1="434.10" x2="437.46" y2="438.60" stroke="#000" stroke-width="1.8" />
<line x1="465.64" y1="823.20" x2="465.64" y2="818.70" stroke="#000" stroke-width="1.8" />
<line x1="465.64" y1="434.10" x2="465.64" y2="438.60" stroke="#000" stroke-width="1.8" />
<line x1="485.63" y1="823.20" x2="485.63" y2="818.70" stroke="#000" stroke-width="1.8" />
<line x1="485.63" y1="434.10" x2="485.63" y2="438.60" stroke="#000" stroke-width="1.8" />
<line x1="501.14" y1="823.20" x2="501.14" y2="818.70" stroke="#000" stroke-width="1.8" />
<line x1="501.14" y1="434.10" x2="501.14" y2="438.60" stroke="#000" stroke-width="1.8" />
<line x1="524.52" y1="823.20" x2="524.52" y2="818.70" stroke="#000" stroke-width="1.8" />
<line x1="524.52" y1="434.10" x2="524.52" y2="438.60" stroke="#000" stroke-width="1.8" />
<line x1="533.79" y1="823.20" x2="533.79" y2="818.70" stroke="#000" stroke-width="1.8" />
<line x1="533.79" y1="434.10" x2="533.79" y2="438.60" stroke="#000" stroke-width="1.8" />
<line x1="541.98" y1="823.20" x2="541.98" y2="818.70" stroke="#000" stroke-width="1.8" />
<line x1="541.98" y1="434.10" x2="541.98" y2="438.60" stroke="#000" stroke-width="1.8" />
<line x1="549.30" y1="823.20" x2="549.30" y2="814.70" stroke="#000" stroke-width="1.8" />
<line x1="549.30" y1="434.10" x2="549.30" y2="442.60" stroke="#000" stroke-width="1.8" />
<line x1="71.10" y1="783.91" x2="76.50" y2="783.91" stroke="#000" stroke-width="1.8" />
<line x1="595.80" y1="783.91" x2="588.20" y2="783.91" stroke="#000" stroke-width="1.8" />
<line x1="71.10" y1="760.98" x2="76.50" y2="760.98" stroke="#000" stroke-width="1.8" />
<line x1="595.80" y1="760.98" x2="588.20" y2="760.98" stroke="#000" stroke-width="1.8" />
<line x1="71.10" y1="744.71" x2="76.50" y2="744.71" stroke="#000" stroke-width="1.8" />
<line x1="595.80" y1="744.71" x2="588.20" y2="744.71" stroke="#000" stroke-width="1.8" />
<line x1="71.10" y1="732.09" x2="76.50" y2="732.09" stroke="#000" stroke-width="1.8" />
<line x1="595.80" y1="732.09" x2="588.20" y2="732.09" stroke="#000" stroke-width="1.8" />
<line x1="71.10" y1="721.78" x2="76.50" y2="721.78" stroke="#000" stroke-width="1.8" />
<line x1="595.80" y1="721.78" x2="588.20" y2="721.78" stroke="#000" stroke-width="1.8" />
<line x1="71.10" y1="713.07" x2="76.50" y2="713.07" stroke="#000" stroke-width="1.8" />
<line x1="595.80" y1="713.07" x2="588.20" y2="713.07" stroke="#000" stroke-width="1.8" />
<line x1="71.10" y1="705.52" x2="76.50" y2="705.52" stroke="#000" stroke-width="1.8" />
<line x1="595.80" y1="705.52" x2="588.20" y2="705.52" stroke="#000" stroke-width="1.8" />
<line x1="71.10" y1="698.86" x2="76.50" y2="698.86" stroke="#000" stroke-width="1.8" />
<line x1="595.80" y1="698.86" x2="588.20" y2="698.86" stroke="#000" stroke-width="1.8" />
<line x1="71.10" y1="692.90" x2="81.10" y2="692.90" stroke="#000" stroke-width="1.8" />
<line x1="595.80" y1="692.90" x2="583.30" y2="692.90" stroke="#000" stroke-width="1.8" />
<line x1="71.10" y1="653.71" x2="76.50" y2="653.71" stroke="#000" stroke-width="1.8" />
<line x1="595.80" y1="653.71" x2="588.20" y2="653.71" stroke="#000" stroke-width="1.8" />
<line x1="71.10" y1="630.78" x2="76.50" y2="630.78" stroke="#000" stroke-width="1.8" />
<line x1="595.80" y1="630.78" x2="588.20" y2="630.78" stroke="#000" stroke-width="1.8" />
<line x1="71.10" y1="614.51" x2="76.50" y2="614.51" stroke="#000" stroke-width="1.8" />
<line x1="595.80" y1="614.51" x2="588.20" y2="614.51" stroke="#000" stroke-width="1.8" />
<line x1="71.10" y1="601.89" x2="76.50" y2="601.89" stroke="#000" stroke-width="1.8" />
<line x1="595.80" y1="601.89" x2="588.20" y2="601.89" stroke="#000" stroke-width="1.8" />
<line x1="71.10" y1="591.58" x2="76.50" y2="591.58" stroke="#000" stroke-width="1.8" />
<line x1="595.80" y1="591.58" x2="588.20" y2="591.58" stroke="#000" stroke-width="1.8" />
<line x1="71.10" y1="582.87" x2="76.50" y2="582.87" stroke="#000" stroke-width="1.8" />
<line x1="595.80" y1="582.87" x2="588.20" y2="582.87" stroke="#000" stroke-width="1.8" />
<line x1="71.10" y1="575.32" x2="76.50" y2="575.32" stroke="#000" stroke-width="1.8" />
<line x1="595.80" y1="575.32" x2="588.20" y2="575.32" stroke="#000" stroke-width="1.8" />
<line x1="71.10" y1="568.66" x2="76.50" y2="568.66" stroke="#000" stroke-width="1.8" />
<line x1="595.80" y1="568.66" x2="588.20" y2="568.66" stroke="#000" stroke-width="1.8" />
<line x1="71.10" y1="562.70" x2="81.10" y2="562.70" stroke="#000" stroke-width="1.8" />
<line x1="595.80" y1="562.70" x2="583.30" y2="562.70" stroke="#000" stroke-width="1.8" />
<line x1="71.10" y1="523.51" x2="76.50" y2="523.51" stroke="#000" stroke-width="1.8" />
<line x1="595.80" y1="523.51" x2="588.20" y2="523.51" stroke="#000" stroke-width="1.8" />
<line x1="71.10" y1="500.58" x2="76.50" y2="500.58" stroke="#000" stroke-width="1.8" />
<line x1="595.80" y1="500.58" x2="588.20" y2="500.58" stroke="#000" stroke-width="1.8" />
<line x1="71.10" y1="484.31" x2="76.50" y2="484.31" stroke="#000" stroke-width="1.8" />
<line x1="595.80" y1="484.31" x2="588.20" y2="484.31" stroke="#000" stroke-width="1.8" />
<line x1="71.10" y1="471.69" x2="76.50" y2="471.69" stroke="#000" stroke-width="1.8" />
<line x1="595.80" y1="471.69" x2="588.20" y2="471.69" stroke="#000" stroke-width="1.8" />
<line x1="71.10" y1="461.38" x2="76.50" y2="461.38" stroke="#000" stroke-width="1.8" />
<line x1="595.80" y1="461.38" x2="588.20" y2="461.38" stroke="#000" stroke-width="1.8" />
<line x1="71.10" y1="452.67" x2="76.50" y2="452.67" stroke="#000" stroke-width="1.8" />
<line x1="595.80" y1="452.67" x2="588.20" y2="452.67" stroke="#000" stroke-width="1.8" />
<line x1="71.10" y1="445.12" x2="76.50" y2="445.12" stroke="#000" stroke-width="1.8" />
<line x1="595.80" y1="445.12" x2="588.20" y2="445.12" stroke="#000" stroke-width="1.8" />
<line x1="71.10" y1="438.46" x2="76.50" y2="438.46" stroke="#000" stroke-width="1.8" />
<line x1="595.80" y1="438.46" x2="588.20" y2="438.46" stroke="#000" stroke-width="1.8" />
<g clip-path="url(#cb)" stroke-linecap="butt">
<path d="M213.00,826.00 L213.95,824.87 L214.92,823.74 L215.89,822.62 L216.88,821.52 L217.89,820.43 L218.92,819.36 L219.97,818.30 L221.04,817.26 L222.12,816.24 L223.22,815.23 L224.33,814.22 L225.45,813.24 L226.59,812.26 L227.73,811.29 L228.88,810.34 L230.05,809.40 L231.22,808.47 L232.41,807.56 L233.61,806.66 L234.81,805.77 L236.02,804.89 L237.25,804.03 L238.48,803.18 L239.72,802.34 L240.97,801.51 L242.22,800.70 L243.49,799.90 L244.77,799.12 L246.05,798.36 L247.35,797.61 L248.66,796.88 L249.97,796.17 L251.29,795.47 L252.63,794.79 L253.96,794.11 L255.31,793.45 L256.66,792.81 L258.02,792.17 L259.38,791.54 L260.74,790.93 L262.11,790.32 L263.49,789.73 L264.87,789.15 L266.26,788.57 L267.64,788.01 L269.04,787.45 L270.43,786.90 L271.83,786.36 L273.23,785.83 L274.64,785.31 L276.05,784.80 L277.46,784.29 L278.87,783.79 L280.29,783.29 L281.70,782.80 L283.12,782.32 L284.54,781.84 L285.96,781.36 L287.39,780.89 L288.81,780.41 L290.23,779.94 L291.66,779.47 L293.08,779.00 L294.50,778.52 L295.93,778.05 L297.35,777.57 L298.77,777.09 L300.19,776.60 L301.60,776.11 L303.02,775.61 L304.43,775.10 L305.83,774.58 L307.24,774.05 L308.64,773.52 L310.03,772.98 L311.43,772.42 L312.82,771.86 L314.21,771.29 L315.59,770.72 L316.97,770.14 L318.35,769.55 L319.72,768.95 L321.10,768.34 L322.47,767.73 L323.83,767.12 L325.20,766.50 L326.56,765.87 L327.92,765.24 L329.28,764.61 L330.65,763.98 L332.01,763.36 L333.37,762.73 L334.73,762.10 L336.09,761.47 L337.45,760.84 L338.82,760.21 L340.17,759.58 L341.53,758.94 L342.89,758.30 L344.23,757.65 L345.58,756.99 L346.92,756.32 L348.25,755.63 L349.58,754.94 L350.91,754.24 L352.22,753.52 L353.53,752.79 L354.83,752.05 L356.13,751.30 L357.42,750.54 L358.70,749.76 L359.97,748.97 L361.23,748.16 L362.47,747.33 L363.71,746.49 L364.94,745.64 L366.16,744.77 L367.37,743.89 L368.58,743.00 L369.78,742.10 L370.97,741.19 L372.16,740.29 L373.35,739.37 L374.54,738.46 L375.74,737.56 L376.93,736.65 L378.13,735.74 L379.33,734.84 L380.53,733.95 L381.73,733.05 L382.94,732.16 L384.15,731.28 L385.36,730.40 L386.58,729.52 L387.80,728.65 L389.02,727.78 L390.25,726.91 L391.48,726.05 L392.70,725.19 L393.93,724.33 L395.16,723.48 L396.39,722.62 L397.62,721.76 L398.84,720.89 L400.06,720.01 L401.27,719.13 L402.47,718.24 L403.67,717.34 L404.86,716.43 L406.04,715.50 L407.21,714.57 L408.38,713.63 L409.54,712.69 L410.70,711.74 L411.86,710.78 L413.01,709.83 L414.17,708.87 L415.32,707.92 L416.48,706.96 L417.64,706.01 L418.80,705.06 L419.96,704.11 L421.13,703.17 L422.30,702.23 L423.46,701.29 L424.64,700.35 L425.81,699.41 L426.98,698.48 L428.16,697.55 L429.34,696.63 L430.53,695.71 L431.71,694.79 L432.90,693.88 L434.10,692.97 L435.29,692.07 L436.49,691.17 L437.70,690.27 L438.90,689.38 L440.12,688.50 L441.33,687.63 L442.56,686.76 L443.78,685.90 L445.02,685.05 L446.25,684.20 L447.50,683.36 L448.74,682.53 L449.99,681.70 L451.25,680.88 L452.50,680.06 L453.76,679.25 L455.03,678.43 L456.29,677.63 L457.55,676.82 L458.82,676.01 L460.09,675.21 L461.35,674.41 L462.62,673.61 L463.89,672.81 L465.16,672.01 L466.43,671.20 L467.69,670.40 L468.96,669.60 L470.23,668.80 L471.49,667.99 L472.76,667.19 L474.03,666.39 L475.30,665.60 L476.58,664.81 L477.86,664.03 L479.14,663.25 L480.43,662.49 L481.72,661.73 L483.02,660.98 L484.33,660.25 L485.64,659.53 L486.96,658.81 L488.28,658.11 L489.61,657.42 L490.95,656.74 L492.29,656.07 L493.63,655.42 L494.99,654.77 L496.35,654.14 L497.71,653.53 L499.08,652.92 L500.46,652.33 L501.84,651.76 L503.23,651.20 L504.63,650.66 L506.03,650.14 L507.44,649.64 L508.85,649.15 L510.28,648.68 L511.70,648.23 L513.14,647.80 L514.57,647.39 L516.02,646.99 L517.47,646.62 L518.92,646.26 L520.38,645.92 L521.84,645.60 L523.31,645.29 L524.78,645.00 L526.25,644.73 L527.72,644.48 L529.20,644.24 L530.68,644.01 L532.17,643.80 L533.65,643.61 L535.14,643.44 L536.63,643.28 L538.12,643.13 L539.61,643.00 L541.10,642.88 L542.60,642.77 L544.09,642.67 L545.59,642.58 L547.09,642.50 L548.59,642.43 L550.08,642.36 L551.58,642.30 L553.08,642.25 L554.58,642.20 L556.08,642.15 L557.58,642.11 L559.08,642.07 L560.58,642.03 L562.08,641.99 L563.58,641.96 L565.08,641.93 L566.58,641.89 L568.07,641.86 L569.57,641.83 L571.07,641.80 L572.57,641.77 L574.07,641.75 L575.57,641.72 L577.07,641.70 L578.57,641.68 L580.07,641.66 L581.57,641.65 L583.07,641.63 L584.57,641.62 L586.06,641.62 L587.56,641.61 L589.05,641.61 L590.54,641.60 L592.03,641.60 L593.52,641.60 L595.01,641.60 L596.00,641.60" fill="none" stroke="#1a2ad0" stroke-width="2.6" stroke-linejoin="round" />
<path d="M184.00,584.00 L184.89,582.79 L185.78,581.59 L186.67,580.38 L187.57,579.17 L188.46,577.97 L189.35,576.76 L190.24,575.56 L191.13,574.35 L192.02,573.14 L192.91,571.94 L193.80,570.73 L194.70,569.52 L195.59,568.32 L196.49,567.12 L197.39,565.92 L198.31,564.74 L199.23,563.55 L200.16,562.38 L201.11,561.23 L202.07,560.08 L203.05,558.95 L204.04,557.83 L205.05,556.72 L206.07,555.63 L207.10,554.54 L208.14,553.46 L209.19,552.38 L210.24,551.31 L211.29,550.25 L212.35,549.18 L213.41,548.12 L214.47,547.06 L215.53,546.00 L216.60,544.95 L217.68,543.91 L218.75,542.86 L219.84,541.83 L220.93,540.80 L222.03,539.78 L223.13,538.76 L224.24,537.76 L225.36,536.76 L226.48,535.77 L227.62,534.79 L228.76,533.82 L229.91,532.86 L231.07,531.91 L232.24,530.98 L233.43,530.06 L234.62,529.15 L235.82,528.26 L237.04,527.39 L238.26,526.52 L239.50,525.68 L240.74,524.85 L242.00,524.04 L243.27,523.24 L244.54,522.45 L245.83,521.68 L247.12,520.92 L248.41,520.17 L249.72,519.44 L251.03,518.72 L252.35,518.02 L253.68,517.34 L255.02,516.70 L256.38,516.08 L257.75,515.51 L259.13,514.96 L260.53,514.45 L261.94,513.96 L263.36,513.50 L264.79,513.06 L266.23,512.64 L267.67,512.23 L269.11,511.83 L270.56,511.44 L272.01,511.06 L273.46,510.68 L274.92,510.31 L276.37,509.95 L277.83,509.59 L279.29,509.25 L280.75,508.90 L282.21,508.57 L283.67,508.24 L285.14,507.92 L286.60,507.60 L288.07,507.29 L289.54,506.99 L291.01,506.69 L292.48,506.41 L293.95,506.12 L295.43,505.84 L296.90,505.57 L298.38,505.30 L299.85,505.03 L301.33,504.77 L302.81,504.52 L304.29,504.27 L305.77,504.03 L307.25,503.80 L308.73,503.59 L310.22,503.38 L311.70,503.19 L313.19,503.00 L314.68,502.83 L316.17,502.66 L317.66,502.50 L319.15,502.34 L320.64,502.19 L322.13,502.05 L323.63,501.92 L325.12,501.79 L326.62,501.68 L328.11,501.59 L329.61,501.51 L331.10,501.45 L332.60,501.41 L334.10,501.38 L335.60,501.36 L337.09,501.36 L338.59,501.37 L340.09,501.40 L341.59,501.44 L343.09,501.49 L344.58,501.56 L346.08,501.64 L347.58,501.74 L349.07,501.85 L350.56,501.97 L352.05,502.11 L353.54,502.27 L355.03,502.44 L356.52,502.63 L358.00,502.84 L359.48,503.07 L360.96,503.31 L362.43,503.57 L363.90,503.86 L365.37,504.16 L366.83,504.48 L368.29,504.82 L369.74,505.19 L371.18,505.57 L372.62,505.98 L374.06,506.41 L375.49,506.85 L376.91,507.31 L378.33,507.78 L379.75,508.26 L381.17,508.76 L382.58,509.26 L383.99,509.77 L385.40,510.29 L386.80,510.81 L388.20,511.35 L389.60,511.90 L390.99,512.45 L392.37,513.02 L393.75,513.61 L395.12,514.21 L396.47,514.83 L397.81,515.49 L399.14,516.17 L400.45,516.88 L401.74,517.62 L403.01,518.39 L404.27,519.19 L405.52,520.02 L406.75,520.86 L407.98,521.73 L409.19,522.61 L410.39,523.50 L411.59,524.40 L412.77,525.32 L413.95,526.24 L415.13,527.17 L416.30,528.11 L417.46,529.06 L418.61,530.02 L419.76,530.99 L420.89,531.96 L422.02,532.95 L423.14,533.94 L424.24,534.95 L425.33,535.98 L426.39,537.02 L427.44,538.09 L428.46,539.17 L429.45,540.28 L430.41,541.42 L431.33,542.58 L432.23,543.77 L433.11,544.98 L433.96,546.21 L434.78,547.45 L435.60,548.71 L436.39,549.98 L437.17,551.25 L437.94,552.54 L438.70,553.83 L439.46,555.13 L440.20,556.43 L440.94,557.73 L441.66,559.05 L442.38,560.36 L443.09,561.68 L443.79,563.01 L444.47,564.34 L445.15,565.68 L445.81,567.02 L446.47,568.37 L447.13,569.72 L447.77,571.07 L448.42,572.43 L449.07,573.78 L449.71,575.13 L450.36,576.49 L451.01,577.84 L451.66,579.19 L452.31,580.54 L452.97,581.89 L453.63,583.24 L454.28,584.59 L454.94,585.93 L455.59,587.28 L456.24,588.64 L456.89,589.99 L457.53,591.34 L458.17,592.70 L458.81,594.06 L459.44,595.42 L460.07,596.78 L460.69,598.15 L461.30,599.51 L461.91,600.88 L462.52,602.26 L463.11,603.63 L463.69,605.01 L464.26,606.40 L464.82,607.79 L465.36,609.19 L465.90,610.59 L466.42,611.99 L466.93,613.40 L467.43,614.81 L467.92,616.23 L468.40,617.65 L468.87,619.08 L469.33,620.50 L469.78,621.93 L470.23,623.36 L470.67,624.80 L471.11,626.23 L471.54,627.67 L471.97,629.11 L472.39,630.54 L472.80,631.99 L473.21,633.43 L473.60,634.88 L473.99,636.32 L474.38,637.77 L474.76,639.22 L475.14,640.68 L475.51,642.13 L475.89,643.58 L476.27,645.03 L476.65,646.48 L477.04,647.93 L477.43,649.38 L477.83,650.82 L478.23,652.27 L478.64,653.71 L479.05,655.15 L479.47,656.59 L479.88,658.04 L480.29,659.48 L480.69,660.92 L481.10,662.37 L481.50,663.81 L481.90,665.26 L482.29,666.70 L482.68,668.15 L483.07,669.60 L483.46,671.05 L483.84,672.50 L484.21,673.95 L484.59,675.41 L484.95,676.86 L485.31,678.32 L485.67,679.77 L486.02,681.23 L486.37,682.69 L486.71,684.15 L487.06,685.61 L487.40,687.07 L487.74,688.53 L488.07,689.99 L488.41,691.46 L488.74,692.92 L489.08,694.38 L489.41,695.84 L489.74,697.31 L490.06,698.77 L490.39,700.23 L490.71,701.70 L491.03,703.17 L491.35,704.63 L491.66,706.10 L491.98,707.56 L492.29,709.03 L492.61,710.50 L492.92,711.96 L493.24,713.43 L493.55,714.90 L493.87,716.36 L494.19,717.83 L494.51,719.29 L494.83,720.76 L495.15,722.22 L495.48,723.69 L495.81,725.15 L496.14,726.61 L496.47,728.08 L496.80,729.54 L497.13,731.00 L497.46,732.47 L497.78,733.93 L498.10,735.40 L498.41,736.86 L498.72,738.33 L499.01,739.80 L499.30,741.27 L499.58,742.75 L499.85,744.22 L500.12,745.70 L500.38,747.17 L500.64,748.65 L500.90,750.13 L501.16,751.60 L501.42,753.08 L501.68,754.56 L501.95,756.03 L502.22,757.51 L502.49,758.98 L502.77,760.46 L503.05,761.93 L503.33,763.41 L503.61,764.88 L503.90,766.35 L504.18,767.82 L504.46,769.30 L504.75,770.77 L505.03,772.24 L505.32,773.72 L505.60,775.19 L505.88,776.66 L506.16,778.14 L506.43,779.61 L506.71,781.09 L506.97,782.56 L507.23,784.04 L507.49,785.52 L507.74,786.99 L507.98,788.47 L508.22,789.95 L508.46,791.44 L508.69,792.92 L508.92,794.40 L509.14,795.88 L509.37,797.37 L509.60,798.85 L509.82,800.33 L510.05,801.81 L510.27,803.30 L510.50,804.78 L510.72,806.26 L510.94,807.75 L511.17,809.23 L511.39,810.71 L511.62,812.20 L511.85,813.68 L512.07,815.16 L512.30,816.64 L512.53,818.12 L512.77,819.60 L513.00,821.08 L513.24,822.56 L513.48,824.03 L513.72,825.51 L513.80,826.00" fill="none" stroke="#222222" stroke-width="2.3" stroke-linejoin="round" />
<path d="M183.60,826.00 C183.60,805.00 183.53,740.33 183.60,700.00 C183.67,659.67 183.93,603.33 184.00,584.00" fill="none" stroke="#222222" stroke-width="2.3" stroke-linejoin="round" />
<path d="M183.30,826.00 L183.30,824.50 L183.30,823.00 L183.30,821.50 L183.30,820.00 L183.30,818.50 L183.30,817.00 L183.30,815.50 L183.30,814.00 L183.30,812.50 L183.30,811.00 L183.30,809.50 L183.30,808.00 L183.30,806.50 L183.30,805.00 L183.30,803.50 L183.30,802.00 L183.30,800.50 L183.30,799.00 L183.30,797.50 L183.30,796.00 L183.30,794.50 L183.30,793.00 L183.30,791.50 L183.30,790.00 L183.30,788.50 L183.30,787.00 L183.30,785.50 L183.30,784.00 L183.30,782.50 L183.30,781.00 L183.30,779.50 L183.30,778.00 L183.30,776.50 L183.30,775.00 L183.30,773.50 L183.30,772.00 L183.30,770.50 L183.30,769.00 L183.30,767.50 L183.30,766.00 L183.30,764.50 L183.30,763.00 L183.30,761.50 L183.30,760.00 L183.30,758.50 L183.30,757.00 L183.30,755.50 L183.30,754.00 L183.30,752.50 L183.30,751.00 L183.30,749.50 L183.30,748.00 L183.30,746.50 L183.30,745.00 L183.30,743.50 L183.30,742.00 L183.30,740.50 L183.30,739.00 L183.30,737.50 L183.30,736.00 L183.30,734.50 L183.30,733.00 L183.30,731.50 L183.30,730.00 L183.30,728.50 L183.30,727.00 L183.30,725.50 L183.30,724.00 L183.30,722.50 L183.30,721.00 L183.30,719.50 L183.30,718.00 L183.30,716.50 L183.30,715.00 L183.30,713.50 L183.30,712.00 L183.30,710.50 L183.30,709.00 L183.30,707.50 L183.30,706.00 L183.30,704.50 L183.30,703.00 L183.30,701.50 L183.30,700.00 L183.30,698.50 L183.30,697.00 L183.30,695.50 L183.30,694.00 L183.30,692.50 L183.30,691.00 L183.30,689.50 L183.30,688.00 L183.30,686.50 L183.30,685.00 L183.30,683.50 L183.30,682.00 L183.30,680.50 L183.30,679.00 L183.30,677.50 L183.30,676.00 L183.30,674.50 L183.30,673.00 L183.30,671.50 L183.30,670.00 L183.30,668.50 L183.30,667.00 L183.30,665.50 L183.30,664.00 L183.30,662.50 L183.30,661.00 L183.30,659.50 L183.30,658.00 L183.30,656.50 L183.30,655.00 L183.30,653.50 L183.30,652.00 L183.30,650.50 L183.30,649.00 L183.31,647.50 L183.31,646.00 L183.32,644.50 L183.33,643.00 L183.34,641.50 L183.36,640.00 L183.38,638.50 L183.41,637.00 L183.45,635.50 L183.49,634.00 L183.55,632.51 L183.62,631.01 L183.70,629.51 L183.79,628.02 L183.91,626.53 L184.05,625.04 L184.21,623.56 L184.40,622.08 L184.63,620.61 L184.90,619.15 L185.21,617.69 L185.57,616.25 L185.97,614.83 L186.42,613.41 L186.92,612.02 L187.46,610.63 L188.05,609.27 L188.67,607.92 L189.33,606.59 L190.03,605.27 L190.76,603.97 L191.51,602.68 L192.27,601.39 L193.06,600.12 L193.85,598.84 L194.65,597.58 L195.46,596.32 L196.27,595.06 L197.10,593.82 L197.94,592.58 L198.80,591.35 L199.68,590.14 L200.58,588.95 L201.50,587.77 L202.43,586.61 L203.39,585.46 L204.37,584.33 L205.36,583.20 L206.36,582.09 L207.37,580.98 L208.39,579.88 L209.41,578.79 L210.45,577.70 L211.49,576.62 L212.53,575.55 L213.59,574.48 L214.65,573.43 L215.72,572.37 L216.80,571.33 L217.88,570.30 L218.98,569.29 L220.09,568.28 L221.21,567.29 L222.35,566.31 L223.50,565.35 L224.66,564.41 L225.83,563.48 L227.02,562.57 L228.22,561.68 L229.43,560.80 L230.66,559.94 L231.90,559.11 L233.15,558.29 L234.42,557.48 L235.69,556.70 L236.97,555.93 L238.27,555.17 L239.57,554.43 L240.88,553.70 L242.19,552.98 L243.52,552.28 L244.85,551.59 L246.18,550.92 L247.53,550.26 L248.88,549.62 L250.24,549.00 L251.61,548.39 L252.99,547.80 L254.37,547.22 L255.76,546.66 L257.15,546.10 L258.54,545.54 L259.94,544.99 L261.33,544.44 L262.73,543.89 L264.12,543.34 L265.52,542.79 L266.91,542.23 L268.30,541.68 L269.70,541.13 L271.10,540.58 L272.49,540.04 L273.89,539.50 L275.30,538.98 L276.70,538.47 L278.12,537.97 L279.53,537.50 L280.96,537.04 L282.39,536.61 L283.83,536.19 L285.27,535.80 L286.72,535.42 L288.18,535.06 L289.64,534.71 L291.10,534.38 L292.56,534.05 L294.02,533.73 L295.49,533.41 L296.96,533.10 L298.42,532.79 L299.89,532.48 L301.36,532.16 L302.82,531.85 L304.29,531.53 L305.75,531.21 L307.22,530.88 L308.68,530.56 L310.15,530.24 L311.61,529.91 L313.08,529.59 L314.54,529.28 L316.01,528.97 L317.48,528.67 L318.95,528.38 L320.42,528.10 L321.90,527.82 L323.37,527.56 L324.85,527.30 L326.33,527.05 L327.81,526.80 L329.28,526.54 L330.76,526.29 L332.24,526.03 L333.72,525.77 L335.19,525.52 L336.67,525.26 L338.15,525.00 L339.63,524.74 L341.10,524.50 L342.58,524.26 L344.07,524.02 L345.55,523.80 L347.03,523.59 L348.52,523.38 L350.00,523.18 L351.49,522.98 L352.98,522.79 L354.47,522.60 L355.95,522.41 L357.44,522.23 L358.93,522.05 L360.42,521.87 L361.91,521.69 L363.40,521.52 L364.89,521.35 L366.38,521.19 L367.87,521.03 L369.36,520.89 L370.86,520.75 L372.35,520.63 L373.85,520.51 L375.34,520.41 L376.84,520.32 L378.33,520.25 L379.83,520.19 L381.33,520.14 L382.83,520.11 L384.33,520.09 L385.82,520.08 L387.32,520.09 L388.82,520.12 L390.32,520.16 L391.81,520.22 L393.31,520.30 L394.80,520.40 L396.29,520.53 L397.77,520.69 L399.25,520.87 L400.73,521.09 L402.20,521.35 L403.67,521.63 L405.13,521.94 L406.58,522.27 L408.04,522.63 L409.49,523.01 L410.93,523.40 L412.37,523.81 L413.81,524.23 L415.24,524.67 L416.67,525.12 L418.10,525.59 L419.51,526.07 L420.92,526.57 L422.33,527.09 L423.73,527.63 L425.12,528.19 L426.50,528.76 L427.87,529.36 L429.23,529.98 L430.58,530.62 L431.93,531.28 L433.26,531.96 L434.58,532.66 L435.90,533.38 L437.20,534.11 L438.50,534.86 L439.78,535.63 L441.05,536.42 L442.32,537.22 L443.58,538.04 L444.82,538.87 L446.06,539.71 L447.29,540.57 L448.51,541.44 L449.72,542.32 L450.91,543.22 L452.09,544.13 L453.25,545.07 L454.39,546.03 L455.50,547.02 L456.59,548.04 L457.65,549.08 L458.69,550.15 L459.70,551.24 L460.69,552.36 L461.66,553.50 L462.62,554.64 L463.56,555.81 L464.49,556.98 L465.41,558.17 L466.31,559.36 L467.20,560.56 L468.09,561.77 L468.95,563.00 L469.81,564.22 L470.67,565.46 L471.51,566.70 L472.35,567.94 L473.18,569.19 L474.00,570.44 L474.82,571.70 L475.63,572.96 L476.43,574.23 L477.22,575.50 L478.01,576.77 L478.79,578.06 L479.57,579.34 L480.33,580.63 L481.09,581.92 L481.84,583.22 L482.59,584.52 L483.32,585.83 L484.04,587.14 L484.76,588.46 L485.46,589.78 L486.15,591.11 L486.83,592.45 L487.50,593.79 L488.16,595.13 L488.81,596.48 L489.44,597.84 L490.06,599.21 L490.66,600.58 L491.24,601.96 L491.81,603.34 L492.37,604.73 L492.92,606.13 L493.45,607.53 L493.98,608.93 L494.50,610.34 L495.02,611.75 L495.53,613.16 L496.03,614.57 L496.53,615.98 L497.02,617.40 L497.51,618.82 L497.99,620.24 L498.46,621.66 L498.94,623.08 L499.41,624.51 L499.88,625.93 L500.36,627.35 L500.85,628.77 L501.34,630.19 L501.84,631.60 L502.35,633.01 L502.87,634.42 L503.39,635.82 L503.93,637.22 L504.47,638.62 L505.02,640.02 L505.57,641.41 L506.12,642.80 L506.68,644.20 L507.24,645.59 L507.80,646.98 L508.37,648.37 L508.94,649.75 L509.52,651.13 L510.11,652.51 L510.71,653.89 L511.33,655.25 L511.95,656.61 L512.59,657.97 L513.24,659.32 L513.91,660.66 L514.60,661.99 L515.30,663.31 L516.03,664.62 L516.77,665.91 L517.54,667.20 L518.32,668.47 L519.13,669.73 L519.95,670.98 L520.79,672.22 L521.65,673.45 L522.51,674.67 L523.39,675.89 L524.28,677.09 L525.17,678.30 L526.08,679.49 L526.99,680.68 L527.91,681.86 L528.84,683.04 L529.78,684.20 L530.74,685.36 L531.70,686.50 L532.69,687.62 L533.69,688.73 L534.71,689.82 L535.75,690.90 L536.81,691.95 L537.88,692.99 L538.97,694.02 L540.08,695.03 L541.19,696.03 L542.31,697.02 L543.44,698.00 L544.58,698.98 L545.73,699.95 L546.88,700.90 L548.05,701.84 L549.22,702.77 L550.41,703.68 L551.61,704.56 L552.83,705.43 L554.07,706.26 L555.32,707.08 L556.59,707.86 L557.87,708.63 L559.17,709.37 L560.48,710.08 L561.80,710.78 L563.14,711.46 L564.48,712.11 L565.84,712.75 L567.20,713.36 L568.58,713.95 L569.96,714.52 L571.35,715.07 L572.75,715.61 L574.16,716.12 L575.57,716.61 L576.99,717.08 L578.42,717.53 L579.85,717.96 L581.29,718.37 L582.74,718.77 L584.18,719.15 L585.64,719.51 L587.09,719.86 L588.55,720.20 L590.02,720.53 L591.48,720.85 L592.95,721.16 L594.42,721.47 L595.89,721.77 L596.87,721.97" fill="none" stroke="#aae022" stroke-width="2.6" stroke-linejoin="round" />
<path d="M183.20,826.00 L183.20,824.50 L183.20,823.00 L183.20,821.50 L183.20,820.00 L183.20,818.50 L183.21,817.00 L183.21,815.50 L183.21,814.00 L183.21,812.50 L183.21,811.00 L183.21,809.50 L183.21,808.00 L183.21,806.50 L183.21,805.00 L183.21,803.50 L183.21,802.00 L183.21,800.50 L183.22,799.00 L183.22,797.50 L183.22,796.00 L183.22,794.50 L183.22,793.00 L183.22,791.50 L183.22,790.00 L183.22,788.50 L183.22,787.00 L183.22,785.50 L183.22,784.00 L183.22,782.50 L183.23,781.00 L183.23,779.50 L183.23,778.00 L183.23,776.50 L183.23,775.00 L183.23,773.50 L183.23,772.00 L183.23,770.50 L183.23,769.00 L183.23,767.50 L183.23,766.00 L183.24,764.50 L183.24,763.00 L183.24,761.50 L183.24,760.00 L183.24,758.50 L183.24,757.00 L183.24,755.50 L183.24,754.00 L183.24,752.50 L183.24,751.00 L183.24,749.50 L183.24,748.00 L183.25,746.50 L183.25,745.00 L183.25,743.50 L183.25,742.00 L183.25,740.50 L183.25,739.00 L183.25,737.50 L183.25,736.00 L183.25,734.50 L183.25,733.00 L183.25,731.50 L183.25,730.00 L183.26,728.50 L183.26,727.00 L183.26,725.50 L183.26,724.00 L183.26,722.50 L183.26,721.00 L183.26,719.50 L183.26,718.00 L183.26,716.50 L183.26,715.00 L183.26,713.50 L183.27,712.00 L183.27,710.50 L183.27,709.00 L183.27,707.50 L183.27,706.00 L183.27,704.50 L183.27,703.00 L183.27,701.50 L183.27,700.00 L183.27,698.50 L183.27,697.00 L183.27,695.50 L183.28,694.00 L183.28,692.50 L183.28,691.00 L183.28,689.50 L183.28,688.00 L183.28,686.50 L183.28,685.00 L183.28,683.50 L183.28,682.00 L183.28,680.50 L183.28,679.00 L183.28,677.50 L183.29,676.00 L183.29,674.50 L183.29,673.00 L183.29,671.50 L183.29,670.00 L183.29,668.50 L183.30,667.00 L183.30,665.50 L183.31,664.00 L183.33,662.50 L183.35,661.01 L183.39,659.51 L183.44,658.02 L183.51,656.53 L183.60,655.04 L183.72,653.55 L183.87,652.08 L184.06,650.60 L184.29,649.14 L184.56,647.68 L184.87,646.23 L185.22,644.79 L185.62,643.36 L186.05,641.94 L186.52,640.53 L187.04,639.14 L187.58,637.75 L188.17,636.38 L188.78,635.02 L189.42,633.68 L190.08,632.34 L190.77,631.01 L191.47,629.69 L192.20,628.39 L192.94,627.09 L193.70,625.80 L194.48,624.52 L195.27,623.25 L196.08,621.99 L196.90,620.74 L197.74,619.50 L198.59,618.27 L199.46,617.05 L200.34,615.84 L201.24,614.65 L202.16,613.47 L203.09,612.30 L204.04,611.15 L205.01,610.02 L206.00,608.91 L207.02,607.81 L208.05,606.73 L209.10,605.68 L210.17,604.63 L211.25,603.60 L212.34,602.57 L213.44,601.56 L214.54,600.55 L215.65,599.54 L216.76,598.54 L217.88,597.54 L219.00,596.55 L220.13,595.56 L221.27,594.59 L222.41,593.62 L223.57,592.67 L224.73,591.74 L225.91,590.82 L227.11,589.92 L228.31,589.03 L229.52,588.15 L230.75,587.29 L231.98,586.44 L233.22,585.61 L234.47,584.78 L235.73,583.96 L236.99,583.16 L238.27,582.37 L239.55,581.59 L240.83,580.83 L242.13,580.08 L243.43,579.35 L244.75,578.63 L246.07,577.93 L247.40,577.24 L248.74,576.57 L250.09,575.91 L251.44,575.27 L252.80,574.64 L254.16,574.02 L255.53,573.41 L256.91,572.81 L258.28,572.22 L259.67,571.65 L261.06,571.09 L262.45,570.54 L263.85,570.01 L265.26,569.50 L266.67,569.00 L268.09,568.53 L269.51,568.06 L270.94,567.62 L272.38,567.20 L273.82,566.79 L275.27,566.40 L276.72,566.03 L278.17,565.68 L279.63,565.35 L281.10,565.04 L282.56,564.76 L284.04,564.49 L285.51,564.25 L286.99,564.03 L288.47,563.83 L289.96,563.66 L291.45,563.50 L292.94,563.36 L294.43,563.23 L295.92,563.13 L297.42,563.03 L298.92,562.95 L300.41,562.88 L301.91,562.82 L303.41,562.78 L304.91,562.74 L306.41,562.71 L307.90,562.69 L309.40,562.68 L310.90,562.68 L312.40,562.68 L313.90,562.70 L315.40,562.73 L316.90,562.77 L318.39,562.82 L319.89,562.89 L321.38,562.97 L322.88,563.07 L324.37,563.18 L325.87,563.30 L327.36,563.43 L328.85,563.57 L330.34,563.72 L331.84,563.87 L333.33,564.03 L334.82,564.20 L336.31,564.37 L337.79,564.55 L339.28,564.74 L340.77,564.94 L342.25,565.14 L343.74,565.36 L345.22,565.59 L346.69,565.83 L348.17,566.08 L349.64,566.35 L351.11,566.64 L352.57,566.96 L354.03,567.29 L355.48,567.64 L356.93,568.02 L358.36,568.42 L359.79,568.85 L361.22,569.30 L362.63,569.78 L364.03,570.29 L365.42,570.83 L366.80,571.40 L368.16,571.99 L369.52,572.61 L370.86,573.26 L372.19,573.94 L373.51,574.64 L374.82,575.36 L376.12,576.10 L377.40,576.86 L378.67,577.64 L379.94,578.45 L381.19,579.27 L382.43,580.10 L383.65,580.96 L384.87,581.83 L386.08,582.71 L387.27,583.61 L388.46,584.53 L389.63,585.46 L390.79,586.40 L391.94,587.36 L393.08,588.33 L394.20,589.32 L395.31,590.33 L396.40,591.34 L397.49,592.37 L398.56,593.42 L399.62,594.47 L400.67,595.54 L401.72,596.62 L402.75,597.70 L403.78,598.79 L404.80,599.89 L405.81,600.99 L406.83,602.09 L407.84,603.19 L408.85,604.29 L409.86,605.39 L410.87,606.49 L411.87,607.59 L412.86,608.69 L413.83,609.81 L414.78,610.93 L415.70,612.08 L416.57,613.25 L417.41,614.45 L418.20,615.67 L418.94,616.93 L419.64,618.22 L420.30,619.53 L420.94,620.86 L421.55,622.21 L422.14,623.57 L422.73,624.94 L423.31,626.32 L423.90,627.69 L424.48,629.07 L425.07,630.45 L425.67,631.82 L426.26,633.20 L426.86,634.57 L427.46,635.95 L428.06,637.32 L428.66,638.70 L429.26,640.07 L429.85,641.45 L430.44,642.83 L431.03,644.21 L431.62,645.59 L432.20,646.97 L432.78,648.35 L433.36,649.74 L433.94,651.12 L434.51,652.51 L435.08,653.89 L435.65,655.28 L436.22,656.67 L436.79,658.06 L437.36,659.45 L437.92,660.84 L438.49,662.23 L439.05,663.61 L439.62,665.00 L440.19,666.39 L440.76,667.78 L441.34,669.16 L441.91,670.55 L442.49,671.93 L443.07,673.31 L443.65,674.70 L444.22,676.08 L444.79,677.47 L445.35,678.86 L445.90,680.25 L446.44,681.65 L446.96,683.05 L447.48,684.46 L447.97,685.87 L448.46,687.29 L448.93,688.71 L449.39,690.14 L449.84,691.57 L450.28,693.00 L450.71,694.44 L451.14,695.88 L451.56,697.31 L451.99,698.75 L452.41,700.19 L452.83,701.63 L453.24,703.07 L453.66,704.51 L454.08,705.95 L454.49,707.40 L454.91,708.84 L455.33,710.28 L455.74,711.72 L456.15,713.16 L456.57,714.60 L456.98,716.05 L457.39,717.49 L457.80,718.93 L458.21,720.38 L458.61,721.82 L459.01,723.26 L459.41,724.71 L459.81,726.16 L460.20,727.60 L460.58,729.05 L460.96,730.50 L461.34,731.96 L461.70,733.41 L462.06,734.87 L462.42,736.32 L462.77,737.78 L463.11,739.24 L463.45,740.70 L463.79,742.16 L464.12,743.63 L464.45,745.09 L464.79,746.55 L465.12,748.01 L465.45,749.48 L465.78,750.94 L466.10,752.41 L466.43,753.87 L466.76,755.33 L467.08,756.80 L467.41,758.26 L467.73,759.73 L468.06,761.19 L468.38,762.65 L468.70,764.12 L469.03,765.58 L469.35,767.05 L469.67,768.51 L469.99,769.98 L470.32,771.44 L470.64,772.91 L470.96,774.37 L471.28,775.84 L471.60,777.31 L471.91,778.77 L472.23,780.24 L472.54,781.71 L472.85,783.17 L473.16,784.64 L473.46,786.11 L473.77,787.58 L474.06,789.05 L474.36,790.52 L474.66,791.99 L474.95,793.46 L475.24,794.93 L475.53,796.40 L475.82,797.88 L476.11,799.35 L476.40,800.82 L476.69,802.29 L476.97,803.76 L477.26,805.24 L477.55,806.71 L477.84,808.18 L478.13,809.65 L478.41,811.12 L478.70,812.60 L478.99,814.07 L479.28,815.54 L479.56,817.01 L479.85,818.49 L480.13,819.96 L480.42,821.43 L480.70,822.90 L480.99,824.38 L481.27,825.85" fill="none" stroke="#8080e8" stroke-width="2.3" stroke-linejoin="round" />
<path d="M183.30,826.00 L183.30,824.50 L183.30,823.00 L183.31,821.50 L183.31,820.00 L183.31,818.50 L183.31,817.00 L183.32,815.50 L183.32,814.00 L183.32,812.50 L183.32,811.00 L183.32,809.50 L183.33,808.00 L183.33,806.50 L183.33,805.00 L183.33,803.50 L183.33,802.00 L183.34,800.50 L183.34,799.00 L183.34,797.50 L183.34,796.00 L183.35,794.50 L183.35,793.00 L183.35,791.50 L183.35,790.00 L183.35,788.50 L183.36,787.00 L183.36,785.50 L183.36,784.00 L183.36,782.50 L183.37,781.00 L183.37,779.50 L183.37,778.00 L183.37,776.50 L183.37,775.00 L183.38,773.50 L183.38,772.00 L183.38,770.50 L183.38,769.00 L183.38,767.50 L183.39,766.00 L183.39,764.50 L183.39,763.00 L183.39,761.50 L183.40,760.00 L183.40,758.50 L183.40,757.00 L183.40,755.50 L183.40,754.00 L183.41,752.50 L183.41,751.00 L183.41,749.50 L183.41,748.00 L183.42,746.50 L183.42,745.00 L183.42,743.50 L183.42,742.00 L183.42,740.50 L183.43,739.00 L183.43,737.50 L183.43,736.00 L183.43,734.50 L183.43,733.00 L183.44,731.50 L183.44,730.00 L183.44,728.50 L183.44,727.00 L183.45,725.50 L183.45,724.00 L183.45,722.50 L183.45,721.00 L183.45,719.50 L183.46,718.00 L183.46,716.50 L183.46,715.00 L183.46,713.50 L183.47,712.00 L183.47,710.50 L183.47,709.00 L183.47,707.50 L183.48,706.00 L183.48,704.50 L183.48,703.00 L183.49,701.50 L183.50,700.00 L183.52,698.50 L183.54,697.00 L183.57,695.51 L183.61,694.01 L183.67,692.52 L183.74,691.02 L183.84,689.53 L183.96,688.05 L184.11,686.56 L184.30,685.08 L184.52,683.61 L184.77,682.15 L185.06,680.69 L185.40,679.24 L185.76,677.80 L186.17,676.37 L186.61,674.95 L187.08,673.54 L187.58,672.13 L188.11,670.74 L188.66,669.35 L189.23,667.97 L189.82,666.59 L190.42,665.22 L191.04,663.86 L191.68,662.51 L192.34,661.17 L193.01,659.84 L193.71,658.52 L194.43,657.21 L195.18,655.92 L195.95,654.65 L196.75,653.39 L197.58,652.15 L198.42,650.92 L199.29,649.71 L200.19,648.51 L201.10,647.33 L202.03,646.16 L202.98,645.01 L203.94,643.87 L204.93,642.74 L205.93,641.63 L206.95,640.53 L207.98,639.45 L209.02,638.38 L210.08,637.32 L211.15,636.28 L212.23,635.24 L213.32,634.21 L214.42,633.19 L215.53,632.19 L216.65,631.19 L217.77,630.21 L218.91,629.24 L220.07,628.29 L221.23,627.35 L222.41,626.43 L223.60,625.52 L224.81,624.64 L226.02,623.77 L227.25,622.91 L228.49,622.08 L229.74,621.26 L231.00,620.46 L232.28,619.68 L233.56,618.92 L234.86,618.18 L236.17,617.46 L237.49,616.77 L238.83,616.10 L240.17,615.45 L241.53,614.82 L242.89,614.20 L244.26,613.60 L245.64,613.01 L247.02,612.44 L248.41,611.88 L249.81,611.34 L251.21,610.80 L252.61,610.28 L254.02,609.76 L255.43,609.26 L256.84,608.76 L258.26,608.27 L259.68,607.79 L261.10,607.32 L262.53,606.85 L263.95,606.39 L265.38,605.93 L266.82,605.49 L268.25,605.06 L269.69,604.63 L271.13,604.22 L272.57,603.83 L274.02,603.44 L275.47,603.08 L276.93,602.73 L278.39,602.39 L279.85,602.08 L281.31,601.79 L282.79,601.52 L284.26,601.26 L285.74,601.04 L287.22,600.83 L288.70,600.64 L290.19,600.47 L291.68,600.32 L293.17,600.18 L294.66,600.06 L296.16,599.96 L297.65,599.87 L299.15,599.79 L300.65,599.73 L302.14,599.68 L303.64,599.65 L305.14,599.63 L306.64,599.62 L308.13,599.63 L309.63,599.66 L311.13,599.69 L312.63,599.75 L314.12,599.81 L315.62,599.89 L317.11,599.99 L318.61,600.10 L320.10,600.23 L321.59,600.37 L323.08,600.52 L324.57,600.69 L326.06,600.87 L327.54,601.07 L329.02,601.29 L330.50,601.52 L331.97,601.78 L333.45,602.05 L334.91,602.34 L336.37,602.65 L337.83,602.99 L339.28,603.35 L340.72,603.73 L342.16,604.14 L343.59,604.57 L345.02,605.02 L346.43,605.50 L347.84,606.01 L349.23,606.53 L350.62,607.08 L352.00,607.66 L353.37,608.26 L354.73,608.88 L356.08,609.51 L357.42,610.17 L358.75,610.86 L360.06,611.56 L361.37,612.28 L362.65,613.03 L363.92,613.80 L365.17,614.61 L366.40,615.44 L367.60,616.31 L368.79,617.20 L369.96,618.13 L371.10,619.07 L372.23,620.05 L373.35,621.04 L374.45,622.05 L375.53,623.08 L376.60,624.12 L377.65,625.18 L378.69,626.26 L379.71,627.35 L380.72,628.45 L381.71,629.57 L382.69,630.70 L383.67,631.84 L384.63,632.98 L385.59,634.13 L386.55,635.28 L387.52,636.43 L388.48,637.58 L389.45,638.72 L390.42,639.86 L391.40,641.00 L392.38,642.13 L393.36,643.26 L394.35,644.39 L395.33,645.53 L396.30,646.66 L397.27,647.80 L398.23,648.95 L399.18,650.11 L400.10,651.28 L401.01,652.47 L401.90,653.67 L402.76,654.88 L403.60,656.11 L404.42,657.36 L405.20,658.63 L405.96,659.91 L406.69,661.21 L407.39,662.53 L408.07,663.86 L408.72,665.20 L409.36,666.55 L409.98,667.91 L410.58,669.28 L411.17,670.66 L411.75,672.04 L412.32,673.42 L412.89,674.81 L413.45,676.20 L414.00,677.59 L414.56,678.98 L415.11,680.38 L415.67,681.77 L416.23,683.16 L416.79,684.54 L417.36,685.93 L417.94,687.31 L418.53,688.69 L419.11,690.07 L419.70,691.44 L420.29,692.82 L420.88,694.20 L421.46,695.58 L422.03,696.97 L422.60,698.36 L423.16,699.75 L423.70,701.14 L424.24,702.54 L424.77,703.95 L425.29,705.35 L425.80,706.76 L426.30,708.17 L426.79,709.59 L427.28,711.01 L427.76,712.43 L428.24,713.85 L428.70,715.28 L429.16,716.70 L429.62,718.13 L430.07,719.56 L430.51,720.99 L430.95,722.43 L431.39,723.86 L431.82,725.30 L432.25,726.74 L432.68,728.17 L433.10,729.61 L433.51,731.05 L433.93,732.50 L434.34,733.94 L434.74,735.38 L435.15,736.82 L435.56,738.27 L435.97,739.71 L436.39,741.15 L436.81,742.59 L437.24,744.02 L437.68,745.46 L438.12,746.89 L438.58,748.32 L439.04,749.74 L439.52,751.16 L439.99,752.58 L440.47,754.00 L440.95,755.42 L441.42,756.85 L441.89,758.27 L442.36,759.69 L442.81,761.12 L443.25,762.55 L443.69,763.99 L444.12,765.42 L444.54,766.86 L444.95,768.31 L445.36,769.75 L445.76,771.19 L446.16,772.64 L446.56,774.08 L446.96,775.53 L447.35,776.98 L447.74,778.43 L448.12,779.88 L448.51,781.33 L448.88,782.78 L449.26,784.23 L449.63,785.68 L449.99,787.14 L450.36,788.59 L450.71,790.05 L451.07,791.51 L451.42,792.96 L451.77,794.42 L452.12,795.88 L452.47,797.34 L452.82,798.80 L453.17,800.26 L453.52,801.72 L453.87,803.18 L454.21,804.64 L454.56,806.09 L454.91,807.55 L455.26,809.01 L455.61,810.47 L455.96,811.93 L456.30,813.39 L456.65,814.84 L456.99,816.30 L457.33,817.76 L457.67,819.21 L458.00,820.67 L458.33,822.12 L458.66,823.58 L458.98,825.03 L459.20,826.00" fill="none" stroke="#44bb44" stroke-width="2.5" stroke-linejoin="round" />
<path d="M183.30,826.00 L183.30,824.50 L183.30,823.00 L183.31,821.50 L183.31,820.00 L183.31,818.50 L183.31,817.00 L183.31,815.50 L183.32,814.00 L183.32,812.50 L183.32,811.00 L183.32,809.50 L183.33,808.00 L183.33,806.50 L183.33,805.00 L183.33,803.50 L183.33,802.00 L183.34,800.50 L183.34,799.00 L183.34,797.50 L183.34,796.00 L183.34,794.50 L183.35,793.00 L183.35,791.50 L183.35,790.00 L183.35,788.50 L183.36,787.00 L183.36,785.50 L183.36,784.00 L183.36,782.50 L183.36,781.00 L183.37,779.50 L183.37,778.00 L183.37,776.50 L183.37,775.00 L183.37,773.50 L183.38,772.00 L183.38,770.50 L183.38,769.00 L183.38,767.50 L183.39,766.00 L183.39,764.50 L183.39,763.00 L183.39,761.50 L183.39,760.00 L183.40,758.50 L183.40,757.00 L183.40,755.50 L183.40,754.00 L183.40,752.50 L183.41,751.00 L183.41,749.50 L183.41,748.00 L183.41,746.50 L183.41,745.00 L183.42,743.50 L183.42,742.00 L183.42,740.50 L183.42,739.00 L183.43,737.50 L183.43,736.00 L183.43,734.50 L183.43,733.00 L183.43,731.50 L183.44,730.00 L183.44,728.50 L183.44,727.00 L183.44,725.50 L183.44,724.00 L183.45,722.50 L183.45,721.00 L183.45,719.50 L183.45,718.00 L183.46,716.50 L183.46,715.00 L183.46,713.50 L183.46,712.00 L183.46,710.50 L183.47,709.00 L183.47,707.50 L183.47,706.00 L183.47,704.50 L183.48,703.00 L183.48,701.50 L183.49,700.00 L183.49,698.50 L183.51,697.00 L183.52,695.50 L183.55,694.01 L183.59,692.51 L183.64,691.01 L183.70,689.52 L183.79,688.03 L183.91,686.54 L184.05,685.06 L184.22,683.58 L184.43,682.11 L184.68,680.65 L184.96,679.19 L185.29,677.75 L185.66,676.32 L186.08,674.91 L186.54,673.51 L187.06,672.14 L187.63,670.78 L188.24,669.44 L188.90,668.12 L189.60,666.81 L190.33,665.52 L191.10,664.24 L191.89,662.98 L192.70,661.73 L193.53,660.49 L194.38,659.25 L195.24,658.03 L196.11,656.81 L197.00,655.60 L197.89,654.40 L198.79,653.20 L199.71,652.01 L200.63,650.83 L201.56,649.66 L202.51,648.50 L203.46,647.35 L204.43,646.21 L205.42,645.08 L206.41,643.96 L207.42,642.86 L208.45,641.77 L209.48,640.68 L210.53,639.61 L211.58,638.55 L212.65,637.50 L213.72,636.46 L214.81,635.42 L215.91,634.40 L217.01,633.40 L218.13,632.40 L219.26,631.42 L220.41,630.46 L221.56,629.51 L222.73,628.57 L223.91,627.65 L225.10,626.74 L226.30,625.84 L227.50,624.95 L228.72,624.07 L229.94,623.20 L231.17,622.34 L232.40,621.49 L233.64,620.65 L234.88,619.82 L236.13,618.99 L237.39,618.17 L238.65,617.36 L239.92,616.56 L241.19,615.77 L242.47,614.98 L243.75,614.21 L245.04,613.44 L246.33,612.67 L247.62,611.92 L248.93,611.18 L250.23,610.45 L251.55,609.73 L252.86,609.01 L254.19,608.31 L255.52,607.62 L256.85,606.93 L258.19,606.25 L259.53,605.58 L260.87,604.92 L262.22,604.27 L263.57,603.62 L264.93,602.99 L266.29,602.38 L267.66,601.78 L269.04,601.20 L270.43,600.65 L271.82,600.11 L273.22,599.59 L274.63,599.09 L276.05,598.61 L277.47,598.14 L278.90,597.68 L280.33,597.23 L281.76,596.79 L283.19,596.35 L284.63,595.92 L286.07,595.49 L287.50,595.06 L288.94,594.64 L290.38,594.22 L291.82,593.80 L293.27,593.39 L294.71,592.98 L296.15,592.58 L297.60,592.19 L299.05,591.79 L300.50,591.41 L301.94,591.02 L303.39,590.64 L304.84,590.25 L306.29,589.87 L307.74,589.48 L309.19,589.08 L310.63,588.68 L312.08,588.28 L313.52,587.86 L314.96,587.44 L316.40,587.02 L317.83,586.58 L319.26,586.14 L320.70,585.70 L322.12,585.24 L323.55,584.78 L324.98,584.32 L326.40,583.84 L327.82,583.37 L329.24,582.88 L330.66,582.40 L332.08,581.91 L333.50,581.42 L334.91,580.93 L336.33,580.43 L337.74,579.93 L339.15,579.43 L340.56,578.92 L341.97,578.40 L343.37,577.88 L344.76,577.34 L346.15,576.78 L347.53,576.20 L348.90,575.61 L350.26,574.99 L351.61,574.35 L352.94,573.68 L354.27,573.00 L355.59,572.30 L356.91,571.58 L358.21,570.85 L359.51,570.10 L360.81,569.35 L362.10,568.59 L363.38,567.82 L364.66,567.04 L365.94,566.25 L367.21,565.45 L368.47,564.65 L369.74,563.84 L371.00,563.03 L372.25,562.21 L373.51,561.39 L374.76,560.57 L376.02,559.75 L377.27,558.93 L378.53,558.11 L379.79,557.30 L381.05,556.49 L382.32,555.69 L383.58,554.88 L384.85,554.08 L386.12,553.28 L387.38,552.47 L388.64,551.66 L389.90,550.85 L391.16,550.03 L392.41,549.21 L393.66,548.38 L394.91,547.56 L396.16,546.73 L397.42,545.91 L398.67,545.09 L399.93,544.27 L401.19,543.46 L402.46,542.66 L403.72,541.86 L405.00,541.07 L406.27,540.28 L407.55,539.50 L408.84,538.72 L410.12,537.95 L411.41,537.18 L412.70,536.42 L413.99,535.66 L415.29,534.90 L416.59,534.16 L417.89,533.41 L419.20,532.68 L420.51,531.96 L421.83,531.24 L423.15,530.53 L424.47,529.82 L425.79,529.12 L427.12,528.42 L428.44,527.72 L429.77,527.02 L431.10,526.31 L432.42,525.61 L433.74,524.90 L435.07,524.20 L436.39,523.49 L437.71,522.78 L439.03,522.07 L440.35,521.36 L441.68,520.66 L443.00,519.95 L444.33,519.25 L445.65,518.56 L446.99,517.87 L448.32,517.19 L449.66,516.52 L451.00,515.86 L452.35,515.23 L453.71,514.61 L455.08,514.01 L456.46,513.44 L457.85,512.90 L459.25,512.39 L460.66,511.90 L462.07,511.44 L463.50,511.00 L464.94,510.59 L466.38,510.19 L467.83,509.82 L469.28,509.47 L470.74,509.13 L472.21,508.81 L473.67,508.51 L475.14,508.22 L476.61,507.94 L478.09,507.67 L479.56,507.40 L481.04,507.15 L482.52,506.90 L484.00,506.66 L485.48,506.43 L486.96,506.20 L488.45,505.97 L489.93,505.75 L491.41,505.54 L492.90,505.33 L494.38,505.13 L495.87,504.93 L497.36,504.74 L498.85,504.56 L500.34,504.39 L501.83,504.22 L503.32,504.06 L504.81,503.91 L506.30,503.77 L507.80,503.63 L509.29,503.50 L510.78,503.38 L512.28,503.26 L513.77,503.15 L515.27,503.05 L516.77,502.95 L518.26,502.86 L519.76,502.77 L521.26,502.69 L522.76,502.61 L524.25,502.54 L525.75,502.47 L527.25,502.41 L528.75,502.36 L530.25,502.31 L531.75,502.26 L533.25,502.22 L534.75,502.19 L536.24,502.16 L537.74,502.14 L539.24,502.12 L540.74,502.10 L542.24,502.09 L543.74,502.08 L545.24,502.07 L546.74,502.07 L548.24,502.06 L549.74,502.06 L551.24,502.07 L552.74,502.07 L554.24,502.08 L555.74,502.09 L557.24,502.11 L558.74,502.12 L560.24,502.14 L561.74,502.16 L563.24,502.17 L564.74,502.19 L566.24,502.21 L567.74,502.23 L569.24,502.25 L570.74,502.27 L572.24,502.29 L573.74,502.31 L575.24,502.33 L576.74,502.35 L578.24,502.37 L579.74,502.39 L581.23,502.41 L582.73,502.43 L584.22,502.45 L585.71,502.47 L587.19,502.49 L588.67,502.50 L590.15,502.52 L591.62,502.54 L593.08,502.56 L594.54,502.58 L596.00,502.60" fill="none" stroke="#5ae8ee" stroke-width="2.4" stroke-linejoin="round" />
<path d="M183.30,826.00 L183.30,824.50 L183.31,823.00 L183.31,821.50 L183.31,820.00 L183.31,818.50 L183.32,817.00 L183.32,815.50 L183.32,814.00 L183.32,812.50 L183.33,811.00 L183.33,809.50 L183.33,808.00 L183.33,806.50 L183.34,805.00 L183.34,803.50 L183.34,802.00 L183.34,800.50 L183.35,799.00 L183.35,797.50 L183.35,796.00 L183.35,794.50 L183.36,793.00 L183.36,791.50 L183.36,790.00 L183.36,788.50 L183.37,787.00 L183.37,785.50 L183.37,784.00 L183.37,782.50 L183.38,781.00 L183.38,779.50 L183.38,778.00 L183.38,776.50 L183.39,775.00 L183.39,773.50 L183.39,772.00 L183.39,770.50 L183.40,769.00 L183.40,767.50 L183.40,766.00 L183.40,764.50 L183.41,763.00 L183.41,761.50 L183.41,760.00 L183.41,758.50 L183.42,757.00 L183.42,755.50 L183.42,754.00 L183.42,752.50 L183.43,751.00 L183.43,749.50 L183.43,748.00 L183.43,746.50 L183.44,745.00 L183.44,743.50 L183.44,742.00 L183.44,740.50 L183.45,739.00 L183.45,737.50 L183.45,736.00 L183.45,734.50 L183.46,733.00 L183.46,731.50 L183.46,730.00 L183.46,728.50 L183.47,727.00 L183.47,725.50 L183.47,724.00 L183.48,722.50 L183.48,721.00 L183.48,719.50 L183.49,718.00 L183.50,716.50 L183.51,715.00 L183.52,713.50 L183.54,712.00 L183.56,710.50 L183.59,709.00 L183.63,707.51 L183.68,706.01 L183.75,704.52 L183.84,703.03 L183.96,701.54 L184.10,700.06 L184.28,698.59 L184.50,697.13 L184.77,695.67 L185.08,694.23 L185.44,692.80 L185.85,691.38 L186.32,689.98 L186.83,688.59 L187.38,687.22 L187.98,685.86 L188.61,684.52 L189.29,683.19 L189.99,681.88 L190.72,680.58 L191.47,679.29 L192.25,678.01 L193.04,676.74 L193.85,675.49 L194.68,674.24 L195.53,673.00 L196.38,671.77 L197.24,670.55 L198.12,669.33 L199.00,668.12 L199.89,666.91 L200.79,665.71 L201.69,664.51 L202.60,663.32 L203.52,662.13 L204.44,660.95 L205.37,659.78 L206.30,658.61 L207.25,657.44 L208.20,656.28 L209.16,655.13 L210.13,653.99 L211.11,652.86 L212.10,651.73 L213.10,650.62 L214.11,649.52 L215.14,648.44 L216.19,647.37 L217.24,646.31 L218.32,645.26 L219.40,644.23 L220.50,643.21 L221.60,642.21 L222.72,641.21 L223.85,640.22 L224.99,639.24 L226.13,638.27 L227.28,637.31 L228.44,636.36 L229.60,635.41 L230.77,634.47 L231.94,633.54 L233.12,632.61 L234.30,631.69 L235.49,630.78 L236.68,629.87 L237.88,628.97 L239.08,628.08 L240.29,627.19 L241.50,626.31 L242.72,625.44 L243.95,624.59 L245.19,623.75 L246.44,622.93 L247.70,622.14 L248.97,621.36 L250.26,620.62 L251.56,619.90 L252.88,619.21 L254.22,618.54 L255.56,617.89 L256.92,617.27 L258.28,616.66 L259.66,616.06 L261.04,615.48 L262.42,614.91 L263.81,614.35 L265.20,613.80 L266.60,613.26 L268.00,612.73 L269.41,612.21 L270.82,611.71 L272.23,611.22 L273.65,610.74 L275.08,610.27 L276.50,609.81 L277.93,609.36 L279.36,608.91 L280.80,608.47 L282.23,608.03 L283.67,607.60 L285.10,607.16 L286.54,606.73 L287.97,606.29 L289.41,605.85 L290.84,605.41 L292.27,604.97 L293.70,604.52 L295.13,604.06 L296.56,603.60 L297.98,603.13 L299.40,602.65 L300.82,602.17 L302.24,601.68 L303.66,601.19 L305.07,600.69 L306.48,600.18 L307.89,599.66 L309.29,599.14 L310.70,598.61 L312.10,598.08 L313.50,597.54 L314.90,597.00 L316.29,596.44 L317.68,595.89 L319.07,595.32 L320.46,594.76 L321.85,594.18 L323.23,593.60 L324.61,593.02 L325.99,592.42 L327.36,591.83 L328.74,591.23 L330.11,590.63 L331.48,590.02 L332.85,589.41 L334.22,588.80 L335.59,588.19 L336.96,587.57 L338.33,586.96 L339.70,586.34 L341.06,585.73 L342.43,585.11 L343.80,584.49 L345.17,583.87 L346.53,583.25 L347.90,582.63 L349.26,582.01 L350.63,581.39 L351.99,580.76 L353.35,580.13 L354.71,579.50 L356.07,578.87 L357.42,578.23 L358.77,577.58 L360.12,576.92 L361.46,576.25 L362.78,575.56 L364.10,574.86 L365.41,574.13 L366.70,573.39 L367.99,572.63 L369.26,571.84 L370.52,571.04 L371.77,570.23 L373.02,569.40 L374.26,568.56 L375.50,567.72 L376.74,566.87 L377.97,566.02 L379.21,565.18 L380.45,564.33 L381.69,563.49 L382.93,562.65 L384.18,561.81 L385.42,560.98 L386.67,560.14 L387.91,559.30 L389.15,558.46 L390.40,557.62 L391.64,556.78 L392.87,555.93 L394.11,555.08 L395.34,554.23 L396.58,553.38 L397.81,552.52 L399.04,551.67 L400.28,550.81 L401.51,549.96 L402.74,549.11 L403.98,548.26 L405.22,547.41 L406.46,546.57 L407.70,545.74 L408.95,544.91 L410.21,544.09 L411.46,543.27 L412.72,542.46 L413.99,541.65 L415.25,540.84 L416.51,540.03 L417.77,539.23 L419.03,538.41 L420.29,537.60 L421.55,536.78 L422.80,535.95 L424.05,535.13 L425.30,534.30 L426.55,533.47 L427.80,532.65 L429.05,531.82 L430.31,531.00 L431.56,530.18 L432.81,529.36 L434.07,528.54 L435.32,527.72 L436.56,526.89 L437.80,526.05 L439.03,525.19 L440.25,524.33 L441.47,523.45 L442.67,522.56 L443.86,521.66 L445.05,520.75 L446.23,519.83 L447.41,518.91 L448.59,517.99 L449.78,517.08 L450.97,516.17 L452.16,515.28 L453.37,514.41 L454.60,513.57 L455.84,512.75 L457.09,511.95 L458.37,511.19 L459.66,510.46 L460.97,509.75 L462.29,509.06 L463.63,508.39 L464.97,507.73 L466.32,507.09 L467.67,506.44 L469.02,505.80 L470.37,505.15 L471.72,504.50 L473.08,503.85 L474.43,503.20 L475.78,502.55 L477.13,501.90 L478.48,501.26 L479.83,500.62 L481.20,500.00 L482.56,499.38 L483.93,498.78 L485.31,498.19 L486.69,497.62 L488.08,497.06 L489.48,496.52 L490.88,495.99 L492.29,495.48 L493.70,494.98 L495.11,494.49 L496.54,494.02 L497.96,493.56 L499.39,493.11 L500.83,492.68 L502.27,492.27 L503.71,491.86 L505.15,491.47 L506.61,491.10 L508.06,490.74 L509.52,490.39 L510.98,490.06 L512.44,489.74 L513.91,489.44 L515.38,489.16 L516.85,488.89 L518.33,488.64 L519.81,488.41 L521.29,488.19 L522.77,487.99 L524.26,487.80 L525.74,487.63 L527.23,487.47 L528.72,487.32 L530.22,487.18 L531.71,487.05 L533.20,486.92 L534.70,486.79 L536.19,486.67 L537.69,486.54 L539.18,486.42 L540.67,486.30 L542.17,486.17 L543.66,486.06 L545.16,485.95 L546.65,485.85 L548.14,485.76 L549.64,485.68 L551.13,485.63 L552.63,485.58 L554.13,485.56 L555.62,485.56 L557.12,485.57 L558.62,485.59 L560.12,485.62 L561.61,485.66 L563.11,485.71 L564.61,485.76 L566.11,485.81 L567.61,485.86 L569.11,485.91 L570.61,485.97 L572.10,486.02 L573.60,486.07 L575.10,486.12 L576.60,486.17 L578.10,486.21 L579.60,486.26 L581.10,486.31 L582.59,486.35 L584.09,486.39 L585.59,486.43 L587.08,486.47 L588.57,486.51 L590.06,486.55 L591.55,486.59 L593.03,486.63 L594.52,486.66 L596.00,486.70" fill="none" stroke="#cc0c14" stroke-width="2.8" stroke-linejoin="round" />
<path d="M183.30,826.00 L183.30,824.50 L183.31,823.00 L183.31,821.50 L183.31,820.00 L183.31,818.50 L183.32,817.00 L183.32,815.50 L183.32,814.00 L183.32,812.50 L183.33,811.00 L183.33,809.50 L183.33,808.00 L183.33,806.50 L183.34,805.00 L183.34,803.50 L183.34,802.00 L183.34,800.50 L183.35,799.00 L183.35,797.50 L183.35,796.00 L183.35,794.50 L183.36,793.00 L183.36,791.50 L183.36,790.00 L183.36,788.50 L183.37,787.00 L183.37,785.50 L183.37,784.00 L183.37,782.50 L183.38,781.00 L183.38,779.50 L183.38,778.00 L183.38,776.50 L183.39,775.00 L183.39,773.50 L183.39,772.00 L183.39,770.50 L183.40,769.00 L183.40,767.50 L183.40,766.00 L183.40,764.50 L183.41,763.00 L183.41,761.50 L183.41,760.00 L183.41,758.50 L183.42,757.00 L183.42,755.50 L183.42,754.00 L183.42,752.50 L183.43,751.00 L183.43,749.50 L183.43,748.00 L183.43,746.50 L183.44,745.00 L183.44,743.50 L183.44,742.00 L183.44,740.50 L183.45,739.00 L183.45,737.50 L183.45,736.00 L183.45,734.50 L183.46,733.00 L183.46,731.50 L183.46,730.00 L183.46,728.50 L183.47,727.00 L183.47,725.50 L183.47,724.00 L183.48,722.50 L183.48,721.00 L183.48,719.50 L183.49,718.00 L183.50,716.50 L183.51,715.00 L183.53,713.50 L183.55,712.00 L183.58,710.51 L183.62,709.01 L183.68,707.52 L183.76,706.02 L183.86,704.54 L183.99,703.06 L184.15,701.58 L184.36,700.12 L184.61,698.67 L184.92,697.23 L185.28,695.81 L185.70,694.41 L186.18,693.03 L186.72,691.66 L187.32,690.32 L187.96,689.00 L188.65,687.69 L189.38,686.39 L190.13,685.11 L190.92,683.85 L191.72,682.59 L192.54,681.33 L193.37,680.09 L194.21,678.85 L195.06,677.62 L195.92,676.39 L196.79,675.17 L197.67,673.95 L198.55,672.74 L199.44,671.54 L200.34,670.34 L201.25,669.15 L202.17,667.96 L203.09,666.78 L204.03,665.61 L204.98,664.45 L205.94,663.30 L206.91,662.16 L207.89,661.03 L208.88,659.92 L209.89,658.81 L210.91,657.72 L211.95,656.64 L213.00,655.57 L214.06,654.52 L215.14,653.49 L216.24,652.47 L217.35,651.48 L218.48,650.50 L219.63,649.54 L220.78,648.59 L221.96,647.66 L223.14,646.75 L224.34,645.86 L225.56,644.98 L226.78,644.12 L228.01,643.28 L229.26,642.46 L230.52,641.65 L231.80,640.87 L233.08,640.11 L234.38,639.37 L235.69,638.65 L237.01,637.96 L238.35,637.30 L239.70,636.66 L241.06,636.04 L242.43,635.45 L243.81,634.87 L245.20,634.32 L246.59,633.78 L247.99,633.25 L249.39,632.73 L250.80,632.22 L252.21,631.71 L253.61,631.19 L255.01,630.68 L256.42,630.16 L257.82,629.64 L259.22,629.12 L260.63,628.61 L262.03,628.12 L263.45,627.64 L264.87,627.18 L266.29,626.74 L267.72,626.33 L269.16,625.94 L270.61,625.57 L272.06,625.23 L273.52,624.90 L274.99,624.59 L276.45,624.29 L277.93,624.01 L279.40,623.73 L280.87,623.47 L282.35,623.23 L283.83,623.00 L285.31,622.79 L286.79,622.59 L288.28,622.42 L289.76,622.28 L291.25,622.16 L292.74,622.07 L294.23,622.01 L295.72,621.98 L297.22,621.98 L298.71,622.01 L300.20,622.06 L301.69,622.15 L303.18,622.26 L304.67,622.40 L306.15,622.56 L307.64,622.75 L309.12,622.96 L310.60,623.19 L312.07,623.44 L313.54,623.71 L315.01,624.00 L316.47,624.31 L317.93,624.64 L319.39,624.98 L320.84,625.35 L322.29,625.73 L323.73,626.13 L325.17,626.54 L326.60,626.97 L328.03,627.42 L329.46,627.88 L330.88,628.36 L332.29,628.85 L333.70,629.36 L335.10,629.89 L336.49,630.43 L337.88,630.99 L339.26,631.58 L340.62,632.18 L341.98,632.80 L343.32,633.45 L344.65,634.13 L345.97,634.83 L347.27,635.56 L348.55,636.32 L349.81,637.11 L351.06,637.92 L352.29,638.77 L353.50,639.63 L354.70,640.53 L355.88,641.44 L357.05,642.37 L358.20,643.32 L359.35,644.28 L360.48,645.26 L361.60,646.26 L362.71,647.26 L363.81,648.28 L364.90,649.30 L365.99,650.34 L367.06,651.38 L368.12,652.44 L369.17,653.51 L370.21,654.59 L371.23,655.68 L372.25,656.78 L373.25,657.89 L374.23,659.02 L375.20,660.16 L376.16,661.31 L377.10,662.47 L378.03,663.64 L378.95,664.82 L379.86,666.01 L380.77,667.20 L381.67,668.39 L382.57,669.58 L383.48,670.77 L384.39,671.96 L385.30,673.15 L386.22,674.33 L387.13,675.51 L388.04,676.69 L388.94,677.89 L389.83,679.08 L390.70,680.30 L391.55,681.52 L392.38,682.76 L393.18,684.02 L393.96,685.29 L394.72,686.57 L395.46,687.87 L396.17,689.18 L396.87,690.51 L397.54,691.84 L398.20,693.18 L398.85,694.53 L399.48,695.89 L400.10,697.26 L400.71,698.62 L401.32,699.99 L401.92,701.37 L402.52,702.74 L403.12,704.11 L403.72,705.49 L404.33,706.86 L404.93,708.24 L405.53,709.61 L406.13,710.98 L406.72,712.36 L407.31,713.74 L407.90,715.12 L408.47,716.50 L409.04,717.89 L409.61,719.28 L410.16,720.67 L410.71,722.07 L411.25,723.47 L411.79,724.87 L412.32,726.27 L412.84,727.67 L413.37,729.08 L413.89,730.48 L414.42,731.89 L414.94,733.29 L415.46,734.70 L415.98,736.11 L416.50,737.51 L417.02,738.92 L417.54,740.33 L418.05,741.74 L418.56,743.15 L419.06,744.56 L419.56,745.98 L420.04,747.39 L420.52,748.81 L420.99,750.24 L421.45,751.66 L421.91,753.09 L422.35,754.52 L422.79,755.96 L423.23,757.39 L423.67,758.83 L424.10,760.26 L424.53,761.70 L424.97,763.13 L425.40,764.57 L425.83,766.01 L426.27,767.44 L426.70,768.88 L427.14,770.31 L427.57,771.75 L428.00,773.19 L428.43,774.62 L428.86,776.06 L429.28,777.50 L429.70,778.94 L430.12,780.38 L430.52,781.82 L430.92,783.27 L431.31,784.72 L431.70,786.16 L432.08,787.62 L432.45,789.07 L432.81,790.52 L433.17,791.98 L433.53,793.44 L433.88,794.89 L434.23,796.35 L434.58,797.81 L434.93,799.27 L435.28,800.73 L435.63,802.19 L435.98,803.65 L436.33,805.10 L436.67,806.56 L437.02,808.02 L437.37,809.48 L437.72,810.94 L438.07,812.40 L438.41,813.86 L438.76,815.31 L439.10,816.77 L439.44,818.23 L439.77,819.69 L440.11,821.14 L440.44,822.60 L440.77,824.06 L441.09,825.51 L441.20,826.00" fill="none" stroke="#dd3311" stroke-width="2.6" stroke-linejoin="round" />
<path d="M183.30,826.00 L183.30,824.50 L183.31,823.00 L183.31,821.50 L183.31,820.00 L183.31,818.50 L183.32,817.00 L183.32,815.50 L183.32,814.00 L183.33,812.50 L183.33,811.00 L183.33,809.50 L183.33,808.00 L183.34,806.50 L183.34,805.00 L183.34,803.50 L183.35,802.00 L183.35,800.50 L183.35,799.00 L183.36,797.50 L183.36,796.00 L183.36,794.50 L183.36,793.00 L183.37,791.50 L183.37,790.00 L183.37,788.50 L183.38,787.00 L183.38,785.50 L183.38,784.00 L183.38,782.50 L183.39,781.00 L183.39,779.50 L183.39,778.00 L183.40,776.50 L183.40,775.00 L183.40,773.50 L183.40,772.00 L183.41,770.50 L183.41,769.00 L183.41,767.50 L183.42,766.00 L183.42,764.50 L183.42,763.00 L183.43,761.50 L183.43,760.00 L183.43,758.50 L183.43,757.00 L183.44,755.50 L183.44,754.00 L183.44,752.50 L183.45,751.00 L183.45,749.50 L183.45,748.00 L183.45,746.50 L183.46,745.00 L183.46,743.50 L183.46,742.00 L183.47,740.50 L183.47,739.00 L183.48,737.50 L183.48,736.00 L183.49,734.50 L183.50,733.00 L183.52,731.50 L183.55,730.00 L183.58,728.51 L183.62,727.01 L183.68,725.51 L183.75,724.02 L183.85,722.52 L183.96,721.03 L184.10,719.55 L184.27,718.07 L184.47,716.59 L184.70,715.12 L184.96,713.66 L185.27,712.21 L185.62,710.77 L186.01,709.34 L186.45,707.93 L186.93,706.53 L187.47,705.16 L188.05,703.80 L188.68,702.47 L189.36,701.15 L190.07,699.86 L190.83,698.58 L191.62,697.32 L192.43,696.07 L193.28,694.84 L194.14,693.62 L195.02,692.41 L195.91,691.21 L196.81,690.01 L197.72,688.82 L198.62,687.63 L199.54,686.44 L200.45,685.25 L201.37,684.07 L202.29,682.89 L203.22,681.71 L204.15,680.54 L205.09,679.38 L206.05,678.22 L207.01,677.07 L207.98,675.93 L208.96,674.80 L209.96,673.68 L210.96,672.57 L211.97,671.47 L213.00,670.38 L214.03,669.29 L215.08,668.23 L216.14,667.18 L217.21,666.15 L218.31,665.15 L219.43,664.17 L220.57,663.22 L221.73,662.31 L222.92,661.43 L224.14,660.58 L225.37,659.76 L226.63,658.96 L227.90,658.19 L229.19,657.44 L230.48,656.69 L231.78,655.96 L233.09,655.23 L234.40,654.51 L235.72,653.79 L237.03,653.07 L238.35,652.35 L239.67,651.64 L240.99,650.94 L242.32,650.25 L243.65,649.56 L244.99,648.89 L246.33,648.22 L247.68,647.58 L249.04,646.95 L250.41,646.34 L251.78,645.76 L253.16,645.19 L254.56,644.65 L255.96,644.14 L257.37,643.65 L258.79,643.19 L260.22,642.76 L261.65,642.34 L263.10,641.96 L264.55,641.60 L266.00,641.26 L267.46,640.94 L268.93,640.65 L270.40,640.39 L271.87,640.15 L273.35,639.93 L274.83,639.74 L276.32,639.57 L277.81,639.43 L279.30,639.32 L280.79,639.23 L282.28,639.17 L283.77,639.13 L285.27,639.12 L286.76,639.13 L288.26,639.17 L289.75,639.23 L291.24,639.32 L292.73,639.43 L294.22,639.56 L295.71,639.72 L297.19,639.90 L298.67,640.10 L300.15,640.33 L301.62,640.58 L303.09,640.86 L304.56,641.15 L306.02,641.47 L307.48,641.81 L308.93,642.17 L310.37,642.55 L311.81,642.95 L313.25,643.38 L314.68,643.82 L316.10,644.28 L317.51,644.77 L318.92,645.27 L320.32,645.80 L321.71,646.35 L323.08,646.92 L324.45,647.52 L325.79,648.15 L327.12,648.81 L328.43,649.51 L329.71,650.24 L330.96,651.01 L332.18,651.82 L333.36,652.67 L334.52,653.57 L335.64,654.49 L336.74,655.44 L337.82,656.41 L338.90,657.39 L339.97,658.35 L341.06,659.30 L342.16,660.22 L343.29,661.10 L344.45,661.94 L345.63,662.75 L346.84,663.53 L348.06,664.29 L349.29,665.05 L350.52,665.82 L351.74,666.61 L352.93,667.43 L354.11,668.29 L355.25,669.19 L356.36,670.14 L357.44,671.13 L358.49,672.17 L359.51,673.24 L360.50,674.34 L361.46,675.47 L362.40,676.63 L363.31,677.80 L364.21,679.00 L365.09,680.21 L365.95,681.43 L366.79,682.67 L367.62,683.91 L368.43,685.17 L369.23,686.44 L370.02,687.71 L370.80,688.99 L371.56,690.28 L372.32,691.57 L373.07,692.87 L373.81,694.17 L374.55,695.48 L375.28,696.79 L376.01,698.10 L376.74,699.41 L377.46,700.73 L378.18,702.04 L378.89,703.36 L379.61,704.68 L380.31,706.00 L381.02,707.33 L381.71,708.65 L382.41,709.98 L383.09,711.32 L383.77,712.66 L384.43,714.00 L385.09,715.35 L385.75,716.69 L386.39,718.05 L387.03,719.40 L387.67,720.76 L388.30,722.12 L388.92,723.49 L389.55,724.85 L390.17,726.22 L390.79,727.58 L391.40,728.95 L392.02,730.32 L392.64,731.68 L393.26,733.05 L393.88,734.41 L394.50,735.78 L395.12,737.14 L395.75,738.51 L396.38,739.87 L397.01,741.23 L397.63,742.59 L398.26,743.95 L398.88,745.32 L399.48,746.68 L400.08,748.06 L400.67,749.43 L401.23,750.82 L401.79,752.21 L402.32,753.61 L402.85,755.01 L403.35,756.42 L403.85,757.83 L404.33,759.25 L404.80,760.67 L405.26,762.10 L405.72,763.53 L406.17,764.96 L406.62,766.39 L407.06,767.82 L407.51,769.26 L407.95,770.69 L408.39,772.12 L408.82,773.56 L409.26,774.99 L409.70,776.43 L410.14,777.86 L410.58,779.29 L411.03,780.73 L411.47,782.16 L411.92,783.59 L412.37,785.02 L412.82,786.45 L413.27,787.88 L413.72,789.31 L414.18,790.74 L414.63,792.17 L415.09,793.60 L415.55,795.03 L416.01,796.46 L416.47,797.88 L416.93,799.31 L417.39,800.74 L417.85,802.17 L418.31,803.60 L418.77,805.02 L419.23,806.45 L419.69,807.88 L420.15,809.31 L420.61,810.73 L421.07,812.16 L421.52,813.59 L421.98,815.02 L422.43,816.45 L422.87,817.88 L423.31,819.31 L423.74,820.74 L424.17,822.17 L424.60,823.61 L425.02,825.04 L425.30,826.00" fill="none" stroke="#66eebb" stroke-width="2.4" stroke-linejoin="round" />
<path d="M160.00,431.30 L161.31,432.04 L162.61,432.77 L163.92,433.51 L165.23,434.25 L166.53,434.98 L167.84,435.72 L169.15,436.45 L170.46,437.19 L171.76,437.92 L173.07,438.65 L174.38,439.38 L175.69,440.11 L177.00,440.84 L178.32,441.57 L179.63,442.30 L180.94,443.03 L182.24,443.77 L183.55,444.50 L184.85,445.24 L186.15,445.99 L187.45,446.74 L188.74,447.50 L190.03,448.27 L191.31,449.05 L192.59,449.84 L193.86,450.63 L195.12,451.44 L196.38,452.25 L197.63,453.07 L198.88,453.90 L200.13,454.73 L201.37,455.58 L202.60,456.43 L203.83,457.29 L205.05,458.15 L206.27,459.03 L207.49,459.91 L208.70,460.79 L209.90,461.69 L211.10,462.59 L212.29,463.49 L213.48,464.41 L214.67,465.32 L215.85,466.25 L217.02,467.18 L218.19,468.12 L219.35,469.07 L220.51,470.02 L221.67,470.98 L222.82,471.94 L223.97,472.90 L225.11,473.87 L226.26,474.83 L227.40,475.80 L228.55,476.77 L229.69,477.74 L230.83,478.72 L231.98,479.69 L233.12,480.66 L234.27,481.62 L235.41,482.59 L236.56,483.56 L237.70,484.53 L238.85,485.50 L239.99,486.47 L241.13,487.45 L242.26,488.43 L243.39,489.41 L244.52,490.40 L245.64,491.39 L246.75,492.39 L247.87,493.40 L248.98,494.40 L250.09,495.41 L251.20,496.41 L252.31,497.42 L253.41,498.43 L254.51,499.45 L255.60,500.47 L256.68,501.50 L257.75,502.55 L258.80,503.61 L259.83,504.68 L260.85,505.78 L261.84,506.89 L262.82,508.01 L263.79,509.15 L264.74,510.30 L265.69,511.46 L266.63,512.63 L267.57,513.80 L268.50,514.97 L269.44,516.14 L270.38,517.31 L271.32,518.47 L272.27,519.63 L273.22,520.79 L274.18,521.95 L275.14,523.10 L276.10,524.25 L277.07,525.40 L278.04,526.54 L279.02,527.68 L280.00,528.81 L280.98,529.94 L281.97,531.07 L282.97,532.19 L283.97,533.31 L284.97,534.43 L285.97,535.54 L286.97,536.66 L287.98,537.77 L288.99,538.88 L290.00,539.99 L291.00,541.10 L292.01,542.21 L293.02,543.32 L294.03,544.43 L295.04,545.54 L296.05,546.65 L297.06,547.76 L298.07,548.87 L299.07,549.98 L300.08,551.09 L301.09,552.21 L302.09,553.32 L303.10,554.43 L304.10,555.55 L305.09,556.67 L306.09,557.79 L307.07,558.92 L308.05,560.06 L309.02,561.20 L309.99,562.35 L310.94,563.50 L311.89,564.67 L312.82,565.84 L313.75,567.01 L314.66,568.20 L315.57,569.39 L316.46,570.60 L317.34,571.81 L318.21,573.03 L319.06,574.26 L319.91,575.49 L320.73,576.74 L321.55,578.00 L322.36,579.26 L323.16,580.52 L323.95,581.80 L324.74,583.07 L325.53,584.34 L326.32,585.62 L327.12,586.89 L327.92,588.15 L328.72,589.42 L329.53,590.68 L330.35,591.94 L331.17,593.20 L331.99,594.45 L332.82,595.70 L333.64,596.95 L334.47,598.20 L335.30,599.45 L336.13,600.70 L336.96,601.95 L337.79,603.20 L338.61,604.45 L339.44,605.71 L340.25,606.96 L341.06,608.22 L341.86,609.49 L342.66,610.76 L343.44,612.04 L344.20,613.33 L344.96,614.62 L345.70,615.92 L346.42,617.23 L347.14,618.55 L347.84,619.87 L348.54,621.20 L349.23,622.53 L349.91,623.86 L350.59,625.20 L351.26,626.54 L351.94,627.88 L352.61,629.22 L353.28,630.56 L353.95,631.90 L354.62,633.24 L355.29,634.59 L355.96,635.93 L356.63,637.27 L357.31,638.61 L357.98,639.95 L358.65,641.29 L359.32,642.64 L359.99,643.98 L360.66,645.32 L361.33,646.66 L362.00,648.00 L362.66,649.35 L363.33,650.69 L363.99,652.04 L364.64,653.39 L365.30,654.74 L365.94,656.09 L366.58,657.45 L367.20,658.81 L367.82,660.17 L368.43,661.54 L369.03,662.92 L369.62,664.29 L370.20,665.68 L370.77,667.06 L371.34,668.45 L371.90,669.84 L372.46,671.23 L373.00,672.63 L373.54,674.03 L374.08,675.43 L374.60,676.83 L375.12,678.24 L375.62,679.65 L376.12,681.06 L376.61,682.48 L377.09,683.90 L377.56,685.32 L378.03,686.75 L378.50,688.17 L378.96,689.60 L379.43,691.02 L379.90,692.45 L380.37,693.87 L380.83,695.30 L381.30,696.72 L381.77,698.15 L382.24,699.57 L382.70,701.00 L383.16,702.43 L383.61,703.85 L384.07,705.28 L384.52,706.72 L384.96,708.15 L385.41,709.58 L385.85,711.01 L386.29,712.45 L386.73,713.88 L387.17,715.32 L387.60,716.75 L388.04,718.19 L388.47,719.62 L388.90,721.06 L389.33,722.50 L389.76,723.93 L390.18,725.37 L390.59,726.81 L391.01,728.26 L391.41,729.70 L391.81,731.14 L392.21,732.59 L392.60,734.04 L392.99,735.49 L393.37,736.94 L393.76,738.39 L394.14,739.84 L394.53,741.28 L394.92,742.73 L395.31,744.18 L395.72,745.62 L396.12,747.07 L396.54,748.51 L396.95,749.95 L397.37,751.39 L397.79,752.83 L398.21,754.27 L398.63,755.71 L399.04,757.15 L399.45,758.59 L399.86,760.03 L400.26,761.48 L400.65,762.93 L401.03,764.38 L401.42,765.83 L401.79,767.28 L402.16,768.73 L402.53,770.18 L402.90,771.64 L403.27,773.09 L403.63,774.55 L403.99,776.00 L404.35,777.46 L404.71,778.92 L405.07,780.37 L405.43,781.83 L405.78,783.29 L406.13,784.75 L406.49,786.20 L406.83,787.66 L407.18,789.12 L407.53,790.58 L407.87,792.04 L408.21,793.50 L408.55,794.96 L408.90,796.42 L409.24,797.88 L409.57,799.35 L409.91,800.81 L410.25,802.27 L410.58,803.73 L410.91,805.19 L411.24,806.66 L411.57,808.12 L411.90,809.58 L412.22,811.04 L412.55,812.50 L412.87,813.96 L413.19,815.42 L413.51,816.88 L413.82,818.33 L414.14,819.77 L414.45,821.21 L414.77,822.65 L415.08,824.09 L415.40,825.52 L415.50,826.00" fill="none" stroke="#e070e0" stroke-width="2.7" stroke-linejoin="round" />
<path d="M181.80,826.00 L181.79,824.50 L181.78,823.00 L181.77,821.50 L181.77,820.00 L181.76,818.50 L181.75,817.00 L181.74,815.50 L181.73,814.00 L181.72,812.50 L181.71,811.00 L181.70,809.50 L181.70,808.00 L181.69,806.50 L181.68,805.00 L181.67,803.50 L181.66,802.00 L181.65,800.50 L181.64,799.00 L181.63,797.50 L181.63,796.00 L181.62,794.50 L181.61,793.00 L181.60,791.50 L181.59,790.00 L181.58,788.50 L181.57,787.00 L181.56,785.50 L181.56,784.00 L181.55,782.50 L181.54,781.00 L181.53,779.50 L181.52,778.00 L181.51,776.50 L181.50,775.00 L181.49,773.50 L181.49,772.00 L181.48,770.50 L181.47,769.00 L181.46,767.50 L181.45,766.00 L181.44,764.50 L181.43,763.00 L181.43,761.50 L181.42,760.00 L181.41,758.50 L181.40,757.00 L181.39,755.50 L181.38,754.00 L181.37,752.50 L181.36,751.00 L181.36,749.50 L181.35,748.00 L181.34,746.50 L181.34,745.00 L181.33,743.50 L181.33,742.00 L181.33,740.50 L181.33,739.00 L181.33,737.50 L181.33,736.00 L181.33,734.50 L181.34,733.00 L181.34,731.50 L181.35,730.00 L181.36,728.50 L181.37,727.00 L181.37,725.50 L181.38,724.00 L181.39,722.50 L181.40,721.00 L181.40,719.50 L181.41,718.00 L181.42,716.50 L181.43,715.00 L181.43,713.50 L181.44,712.00 L181.45,710.50 L181.46,709.00 L181.47,707.50 L181.48,706.00 L181.49,704.50 L181.50,703.00 L181.52,701.50 L181.54,700.00 L181.56,698.50 L181.58,697.00 L181.61,695.50 L181.63,694.00 L181.66,692.50 L181.69,691.00 L181.72,689.50 L181.76,688.01 L181.80,686.51 L181.84,685.01 L181.89,683.51 L181.95,682.01 L182.02,680.52 L182.11,679.02 L182.22,677.53 L182.35,676.04 L182.51,674.55 L182.69,673.07 L182.90,671.59 L183.13,670.11 L183.39,668.64 L183.68,667.18 L184.01,665.72 L184.36,664.27 L184.75,662.83 L185.17,661.41 L185.64,659.99 L186.15,658.60 L186.69,657.22 L187.28,655.85 L187.92,654.51 L188.59,653.18 L189.29,651.87 L190.03,650.58 L190.80,649.30 L191.59,648.03 L192.40,646.78 L193.23,645.53 L194.08,644.30 L194.95,643.08 L195.84,641.88 L196.74,640.68 L197.66,639.50 L198.59,638.32 L199.53,637.16 L200.48,636.00 L201.44,634.85 L202.41,633.71 L203.39,632.57 L204.38,631.45 L205.37,630.32 L206.38,629.21 L207.39,628.10 L208.41,627.01 L209.43,625.91 L210.47,624.83 L211.51,623.75 L212.57,622.69 L213.63,621.63 L214.70,620.58 L215.78,619.55 L216.88,618.53 L217.99,617.52 L219.11,616.53 L220.24,615.54 L221.38,614.58 L222.53,613.62 L223.69,612.67 L224.86,611.73 L226.03,610.79 L227.21,609.87 L228.40,608.95 L229.59,608.05 L230.79,607.16 L232.01,606.29 L233.23,605.43 L234.47,604.60 L235.73,603.80 L237.00,603.02 L238.29,602.26 L239.59,601.52 L240.90,600.80 L242.22,600.09 L243.55,599.40 L244.88,598.71 L246.21,598.02 L247.55,597.34 L248.89,596.66 L250.22,595.98 L251.56,595.30 L252.90,594.62 L254.23,593.94 L255.57,593.26 L256.91,592.58 L258.24,591.90 L259.58,591.22 L260.92,590.54 L262.26,589.87 L263.60,589.19 L264.94,588.53 L266.29,587.86 L267.64,587.21 L268.99,586.57 L270.35,585.93 L271.71,585.31 L273.08,584.70 L274.45,584.10 L275.83,583.50 L277.21,582.92 L278.60,582.35 L279.99,581.79 L281.38,581.24 L282.78,580.71 L284.18,580.18 L285.59,579.67 L287.01,579.17 L288.42,578.68 L289.84,578.20 L291.27,577.73 L292.69,577.27 L294.12,576.82 L295.55,576.37 L296.99,575.93 L298.42,575.50 L299.86,575.08 L301.30,574.66 L302.75,574.25 L304.19,573.84 L305.63,573.44 L307.08,573.04 L308.53,572.65 L309.97,572.25 L311.42,571.87 L312.87,571.48 L314.32,571.10 L315.78,570.73 L317.23,570.36 L318.68,569.98 L320.14,569.62 L321.59,569.25 L323.04,568.87 L324.50,568.50 L325.95,568.12 L327.40,567.74 L328.85,567.36 L330.29,566.96 L331.74,566.57 L333.19,566.17 L334.63,565.76 L336.07,565.35 L337.51,564.93 L338.95,564.51 L340.39,564.08 L341.82,563.64 L343.26,563.20 L344.69,562.75 L346.12,562.30 L347.54,561.84 L348.97,561.37 L350.39,560.91 L351.82,560.43 L353.24,559.96 L354.66,559.48 L356.08,558.99 L357.50,558.50 L358.91,558.01 L360.33,557.51 L361.74,557.01 L363.15,556.50 L364.56,555.99 L365.97,555.47 L367.37,554.94 L368.78,554.41 L370.18,553.87 L371.58,553.34 L372.98,552.80 L374.37,552.25 L375.77,551.71 L377.17,551.18 L378.57,550.64 L379.98,550.11 L381.38,549.59 L382.79,549.06 L384.20,548.55 L385.60,548.03 L387.01,547.51 L388.42,546.99 L389.82,546.46 L391.22,545.94 L392.63,545.40 L394.03,544.87 L395.43,544.34 L396.83,543.80 L398.23,543.27 L399.64,542.74 L401.04,542.21 L402.45,541.69 L403.85,541.17 L405.26,540.65 L406.67,540.14 L408.07,539.62 L409.48,539.10 L410.89,538.58 L412.29,538.05 L413.70,537.54 L415.11,537.02 L416.52,536.52 L417.93,536.03 L419.35,535.55 L420.77,535.10 L422.21,534.66 L423.64,534.24 L425.09,533.85 L426.54,533.47 L427.99,533.11 L429.45,532.76 L430.91,532.42 L432.37,532.10 L433.84,531.80 L435.30,531.50 L436.78,531.23 L438.25,530.98 L439.72,530.75 L441.20,530.55 L442.69,530.38 L444.17,530.25 L445.66,530.15 L447.15,530.08 L448.64,530.05 L450.13,530.05 L451.62,530.09 L453.11,530.15 L454.60,530.24 L456.09,530.36 L457.58,530.51 L459.06,530.69 L460.54,530.90 L462.02,531.14 L463.49,531.41 L464.95,531.70 L466.41,532.01 L467.87,532.35 L469.32,532.72 L470.76,533.12 L472.19,533.54 L473.61,533.99 L475.03,534.46 L476.44,534.97 L477.83,535.50 L479.22,536.05 L480.59,536.64 L481.94,537.26 L483.28,537.91 L484.61,538.59 L485.92,539.30 L487.21,540.04 L488.50,540.81 L489.77,541.59 L491.03,542.39 L492.29,543.20 L493.54,544.03 L494.79,544.85 L496.04,545.69 L497.28,546.52 L498.53,547.35 L499.78,548.17 L501.04,548.98 L502.30,549.78 L503.57,550.57 L504.85,551.34 L506.14,552.10 L507.44,552.85 L508.74,553.59 L510.05,554.31 L511.36,555.01 L512.69,555.69 L514.03,556.34 L515.38,556.96 L516.74,557.54 L518.12,558.08 L519.52,558.58 L520.93,559.05 L522.35,559.49 L523.78,559.92 L525.22,560.33 L526.66,560.74 L528.09,561.16 L529.53,561.58 L530.97,562.01 L532.40,562.44 L533.83,562.88 L535.26,563.32 L536.70,563.76 L538.13,564.19 L539.57,564.60 L541.01,565.00 L542.46,565.38 L543.91,565.74 L545.37,566.07 L546.84,566.38 L548.30,566.67 L549.78,566.93 L551.25,567.18 L552.73,567.41 L554.22,567.63 L555.70,567.83 L557.19,568.02 L558.68,568.20 L560.17,568.38 L561.66,568.54 L563.15,568.70 L564.64,568.85 L566.13,568.98 L567.63,569.10 L569.12,569.22 L570.62,569.32 L572.11,569.42 L573.61,569.50 L575.11,569.58 L576.60,569.66 L578.10,569.73 L579.60,569.80 L581.10,569.86 L582.60,569.92 L584.09,569.97 L585.59,570.02 L587.08,570.07 L588.58,570.11 L590.07,570.15 L591.55,570.19 L593.04,570.23 L594.52,570.26 L596.00,570.30" fill="none" stroke="#5a00d8" stroke-width="2.6" stroke-linejoin="round" />
<path d="M182.30,826.00 L182.33,824.50 L182.35,823.00 L182.38,821.50 L182.40,820.00 L182.43,818.50 L182.45,817.00 L182.48,815.50 L182.51,814.00 L182.53,812.50 L182.56,811.00 L182.58,809.50 L182.61,808.00 L182.63,806.50 L182.66,805.00 L182.68,803.50 L182.71,802.00 L182.74,800.50 L182.76,799.00 L182.79,797.50 L182.81,796.00 L182.84,794.50 L182.86,793.00 L182.89,791.51 L182.92,790.01 L182.94,788.51 L182.97,787.01 L182.99,785.51 L183.02,784.01 L183.04,782.51 L183.07,781.01 L183.10,779.51 L183.12,778.01 L183.15,776.51 L183.17,775.01 L183.20,773.51 L183.22,772.01 L183.25,770.51 L183.28,769.01 L183.30,767.51 L183.33,766.01 L183.35,764.51 L183.38,763.01 L183.41,761.51 L183.43,760.01 L183.46,758.51 L183.50,757.01 L183.53,755.51 L183.57,754.01 L183.61,752.51 L183.67,751.02 L183.73,749.52 L183.81,748.03 L183.90,746.54 L184.02,745.05 L184.17,743.57 L184.35,742.09 L184.56,740.62 L184.82,739.17 L185.12,737.72 L185.48,736.28 L185.88,734.86 L186.33,733.45 L186.82,732.06 L187.37,730.68 L187.95,729.32 L188.57,727.97 L189.23,726.63 L189.93,725.32 L190.65,724.01 L191.40,722.72 L192.17,721.45 L192.97,720.18 L193.79,718.93 L194.62,717.69 L195.47,716.46 L196.34,715.23 L197.21,714.02 L198.10,712.81 L199.00,711.62 L199.91,710.43 L200.83,709.24 L201.76,708.07 L202.70,706.90 L203.64,705.73 L204.59,704.57 L205.54,703.41 L206.50,702.26 L207.46,701.11 L208.43,699.96 L209.40,698.82 L210.38,697.68 L211.36,696.55 L212.35,695.43 L213.35,694.31 L214.35,693.19 L215.37,692.09 L216.39,691.00 L217.43,689.92 L218.48,688.86 L219.55,687.82 L220.63,686.80 L221.74,685.80 L222.86,684.83 L224.00,683.87 L225.16,682.94 L226.33,682.02 L227.52,681.12 L228.71,680.22 L229.91,679.34 L231.11,678.45 L232.31,677.56 L233.52,676.68 L234.72,675.79 L235.92,674.90 L237.13,674.01 L238.34,673.12 L239.55,672.25 L240.77,671.38 L242.00,670.53 L243.24,669.69 L244.49,668.86 L245.74,668.05 L247.01,667.25 L248.29,666.47 L249.57,665.70 L250.86,664.94 L252.16,664.20 L253.47,663.47 L254.79,662.75 L256.11,662.04 L257.43,661.35 L258.77,660.67 L260.11,660.00 L261.46,659.34 L262.81,658.70 L264.17,658.07 L265.53,657.45 L266.91,656.85 L268.28,656.26 L269.66,655.68 L271.05,655.12 L272.44,654.56 L273.84,654.01 L275.24,653.47 L276.64,652.94 L278.05,652.42 L279.45,651.91 L280.87,651.41 L282.28,650.91 L283.70,650.42 L285.12,649.95 L286.54,649.48 L287.97,649.02 L289.40,648.57 L290.84,648.14 L292.27,647.71 L293.71,647.29 L295.15,646.88 L296.60,646.47 L298.04,646.07 L299.49,645.67 L300.94,645.28 L302.38,644.89 L303.83,644.50 L305.28,644.11 L306.73,643.72 L308.17,643.32 L309.62,642.93 L311.07,642.53 L312.51,642.13 L313.96,641.72 L315.40,641.31 L316.84,640.90 L318.28,640.48 L319.72,640.06 L321.16,639.64 L322.60,639.21 L324.04,638.78 L325.47,638.35 L326.91,637.92 L328.34,637.48 L329.78,637.04 L331.21,636.60 L332.64,636.15 L334.06,635.68 L335.48,635.21 L336.90,634.72 L338.31,634.22 L339.71,633.70 L341.11,633.17 L342.50,632.61 L343.88,632.03 L345.25,631.44 L346.61,630.83 L347.97,630.19 L349.32,629.54 L350.66,628.88 L351.99,628.19 L353.31,627.49 L354.63,626.78 L355.93,626.05 L357.23,625.30 L358.51,624.53 L359.79,623.74 L361.04,622.94 L362.29,622.11 L363.52,621.26 L364.73,620.40 L365.93,619.50 L367.11,618.59 L368.28,617.66 L369.43,616.71 L370.57,615.73 L371.69,614.75 L372.80,613.74 L373.90,612.73 L375.00,611.71 L376.08,610.67 L377.16,609.64 L378.24,608.59 L379.31,607.54 L380.37,606.49 L381.44,605.43 L382.49,604.37 L383.55,603.30 L384.61,602.24 L385.67,601.17 L386.72,600.11 L387.79,599.06 L388.85,598.00 L389.93,596.96 L391.01,595.92 L392.10,594.90 L393.20,593.89 L394.31,592.89 L395.44,591.90 L396.58,590.93 L397.73,589.97 L398.89,589.02 L400.06,588.09 L401.24,587.17 L402.43,586.26 L403.63,585.37 L404.84,584.49 L406.06,583.63 L407.30,582.78 L408.54,581.95 L409.79,581.13 L411.05,580.33 L412.32,579.53 L413.59,578.74 L414.87,577.95 L416.15,577.17 L417.42,576.38 L418.70,575.59 L419.97,574.80 L421.23,574.00 L422.50,573.19 L423.76,572.38 L425.01,571.56 L426.27,570.74 L427.52,569.92 L428.77,569.09 L430.03,568.27 L431.28,567.44 L432.53,566.62 L433.78,565.79 L435.03,564.96 L436.27,564.13 L437.51,563.29 L438.75,562.45 L439.99,561.61 L441.22,560.75 L442.44,559.90 L443.67,559.05 L444.90,558.19 L446.13,557.35 L447.37,556.51 L448.62,555.68 L449.87,554.86 L451.13,554.06 L452.40,553.26 L453.67,552.47 L454.95,551.69 L456.23,550.91 L457.51,550.13 L458.80,549.36 L460.08,548.59 L461.37,547.81 L462.65,547.04 L463.94,546.27 L465.23,545.50 L466.51,544.73 L467.81,543.97 L469.10,543.21 L470.40,542.46 L471.70,541.71 L473.00,540.97 L474.31,540.24 L475.62,539.52 L476.94,538.80 L478.26,538.08 L479.58,537.38 L480.91,536.68 L482.23,535.98 L483.57,535.29 L484.90,534.61 L486.24,533.93 L487.58,533.27 L488.93,532.61 L490.28,531.96 L491.63,531.32 L492.99,530.69 L494.36,530.08 L495.73,529.48 L497.11,528.90 L498.50,528.33 L499.89,527.78 L501.29,527.25 L502.69,526.74 L504.10,526.25 L505.52,525.77 L506.95,525.32 L508.38,524.88 L509.82,524.47 L511.26,524.08 L512.71,523.71 L514.16,523.35 L515.62,523.02 L517.08,522.71 L518.55,522.42 L520.02,522.15 L521.50,521.89 L522.98,521.65 L524.46,521.43 L525.94,521.22 L527.43,521.03 L528.91,520.85 L530.40,520.68 L531.89,520.51 L533.38,520.36 L534.88,520.21 L536.37,520.06 L537.86,519.92 L539.35,519.79 L540.85,519.65 L542.34,519.53 L543.84,519.40 L545.33,519.28 L546.83,519.17 L548.32,519.07 L549.82,518.97 L551.32,518.89 L552.81,518.81 L554.31,518.74 L555.81,518.68 L557.31,518.63 L558.81,518.58 L560.30,518.54 L561.80,518.51 L563.30,518.48 L564.80,518.45 L566.30,518.42 L567.80,518.40 L569.30,518.38 L570.80,518.36 L572.30,518.33 L573.80,518.31 L575.30,518.29 L576.80,518.27 L578.30,518.25 L579.80,518.23 L581.30,518.21 L582.80,518.19 L584.30,518.17 L585.80,518.15 L587.30,518.13 L588.80,518.11 L590.30,518.09 L591.80,518.07 L593.30,518.05 L594.80,518.03 L596.30,518.01 L596.80,518.00" fill="none" stroke="#22d422" stroke-width="2.7" stroke-linejoin="round" />
</g>
<rect x="71.10" y="434.10" width="524.70" height="389.10" fill="none" stroke="#000" stroke-width="2"/>
<line x1="593.00" y1="502.60" x2="597.90" y2="502.60" stroke="#5ae8ee" stroke-width="2.4" />
<line x1="593.00" y1="518.00" x2="597.40" y2="518.00" stroke="#22d422" stroke-width="2.7" />
<line x1="593.00" y1="570.30" x2="596.80" y2="570.30" stroke="#5a00d8" stroke-width="2.6" />
<line x1="593.00" y1="722.00" x2="597.60" y2="722.20" stroke="#aae022" stroke-width="2.6" />
<circle cx="561.70" cy="642.00" r="9.10" fill="#fff" stroke="#000" stroke-width="1.35"/>
<text x="561.70" y="648.60" font-family="'Liberation Serif', serif" font-weight="bold" font-size="18" text-anchor="middle" stroke="#000" stroke-width="0.45">1</text>
<circle cx="551.30" cy="518.70" r="9.10" fill="#fff" stroke="#000" stroke-width="1.35"/>
<text x="551.30" y="525.30" font-family="'Liberation Serif', serif" font-weight="bold" font-size="18" text-anchor="middle" stroke="#000" stroke-width="0.45">2</text>
<circle cx="552.00" cy="484.90" r="9.10" fill="#fff" stroke="#000" stroke-width="1.35"/>
<text x="552.00" y="491.50" font-family="'Liberation Serif', serif" font-weight="bold" font-size="18" text-anchor="middle" stroke="#000" stroke-width="0.45">3</text>
<circle cx="529.50" cy="502.20" r="9.10" fill="#fff" stroke="#000" stroke-width="1.35"/>
<text x="529.50" y="508.80" font-family="'Liberation Serif', serif" font-weight="bold" font-size="18" text-anchor="middle" stroke="#000" stroke-width="0.45">4</text>
<circle cx="528.30" cy="560.90" r="9.10" fill="#fff" stroke="#000" stroke-width="1.35"/>
<text x="528.30" y="567.50" font-family="'Liberation Serif', serif" font-weight="bold" font-size="18" text-anchor="middle" stroke="#000" stroke-width="0.45">5</text>
<circle cx="320.00" cy="528.00" r="9.10" fill="#fff" stroke="#000" stroke-width="1.35"/>
<text x="320.00" y="534.60" font-family="'Liberation Serif', serif" font-weight="bold" font-size="18" text-anchor="middle" stroke="#000" stroke-width="0.45">6</text>
<circle cx="319.40" cy="503.20" r="9.10" fill="#fff" stroke="#000" stroke-width="1.35"/>
<text x="319.40" y="509.80" font-family="'Liberation Serif', serif" font-weight="bold" font-size="18" text-anchor="middle" stroke="#000" stroke-width="0.45">7</text>
<circle cx="418.70" cy="614.00" r="9.10" fill="#fff" stroke="#000" stroke-width="1.35"/>
<text x="418.70" y="620.60" font-family="'Liberation Serif', serif" font-weight="bold" font-size="18" text-anchor="middle" stroke="#000" stroke-width="0.45">8</text>
<circle cx="400.00" cy="650.30" r="9.10" fill="#fff" stroke="#000" stroke-width="1.35"/>
<text x="400.00" y="656.90" font-family="'Liberation Serif', serif" font-weight="bold" font-size="18" text-anchor="middle" stroke="#000" stroke-width="0.45">9</text>
<circle cx="391.60" cy="680.40" r="9.10" fill="#fff" stroke="#000" stroke-width="1.35"/>
<text x="391.60" y="686.00" font-family="'Liberation Serif', serif" font-weight="bold" font-size="16.5" text-anchor="middle" textLength="13.8" lengthAdjust="spacingAndGlyphs" stroke="#000" stroke-width="0.45">10</text>
<circle cx="342.50" cy="662.50" r="9.10" fill="#fff" stroke="#000" stroke-width="1.35"/>
<text x="342.50" y="668.10" font-family="'Liberation Serif', serif" font-weight="bold" font-size="16.5" text-anchor="middle" textLength="13.8" lengthAdjust="spacingAndGlyphs" stroke="#000" stroke-width="0.45">11</text>
<circle cx="244.40" cy="489.30" r="9.10" fill="#fff" stroke="#000" stroke-width="1.35"/>
<text x="244.40" y="494.90" font-family="'Liberation Serif', serif" font-weight="bold" font-size="16.5" text-anchor="middle" textLength="13.8" lengthAdjust="spacingAndGlyphs" stroke="#000" stroke-width="0.45">12</text>
<rect x="79.6" y="583.6" width="94.4" height="229.8" fill="#fff" stroke="#000" stroke-width="1.8"/>
<circle cx="89.4" cy="595.40" r="6.3" fill="#fff" stroke="#000" stroke-width="1.1"/>
<text x="89.40" y="599.70" font-family="'Liberation Serif', serif" font-weight="bold" font-size="13" text-anchor="middle" >1</text>
<line x1="99.00" y1="595.40" x2="111.00" y2="595.40" stroke="#1a2ad0" stroke-width="2.6" />
<text x="113.60" y="600.00" font-family="'Liberation Serif', serif" font-weight="bold" font-size="14.6" text-anchor="start" textLength="38.1" lengthAdjust="spacingAndGlyphs" >0&#8722;0.05</text>
<circle cx="89.4" cy="614.31" r="6.3" fill="#fff" stroke="#000" stroke-width="1.1"/>
<text x="89.40" y="618.61" font-family="'Liberation Serif', serif" font-weight="bold" font-size="13" text-anchor="middle" >2</text>
<line x1="99.00" y1="614.31" x2="111.00" y2="614.31" stroke="#22d422" stroke-width="2.6" />
<text x="113.60" y="618.91" font-family="'Liberation Serif', serif" font-weight="bold" font-size="14.6" text-anchor="start" textLength="55.1" lengthAdjust="spacingAndGlyphs" >0.05&#8722;0.10</text>
<circle cx="89.4" cy="633.22" r="6.3" fill="#fff" stroke="#000" stroke-width="1.1"/>
<text x="89.40" y="637.52" font-family="'Liberation Serif', serif" font-weight="bold" font-size="13" text-anchor="middle" >3</text>
<line x1="99.00" y1="633.22" x2="111.00" y2="633.22" stroke="#cc0c14" stroke-width="2.6" />
<text x="113.60" y="637.82" font-family="'Liberation Serif', serif" font-weight="bold" font-size="14.6" text-anchor="start" textLength="55.1" lengthAdjust="spacingAndGlyphs" >0.10&#8722;0.15</text>
<circle cx="89.4" cy="652.13" r="6.3" fill="#fff" stroke="#000" stroke-width="1.1"/>
<text x="89.40" y="656.43" font-family="'Liberation Serif', serif" font-weight="bold" font-size="13" text-anchor="middle" >4</text>
<line x1="99.00" y1="652.13" x2="111.00" y2="652.13" stroke="#5ae8ee" stroke-width="2.6" />
<text x="113.60" y="656.73" font-family="'Liberation Serif', serif" font-weight="bold" font-size="14.6" text-anchor="start" textLength="55.1" lengthAdjust="spacingAndGlyphs" >0.15&#8722;0.20</text>
<circle cx="89.4" cy="671.04" r="6.3" fill="#fff" stroke="#000" stroke-width="1.1"/>
<text x="89.40" y="675.34" font-family="'Liberation Serif', serif" font-weight="bold" font-size="13" text-anchor="middle" >5</text>
<line x1="99.00" y1="671.04" x2="111.00" y2="671.04" stroke="#5a00d8" stroke-width="2.6" />
<text x="113.60" y="675.64" font-family="'Liberation Serif', serif" font-weight="bold" font-size="14.6" text-anchor="start" textLength="55.1" lengthAdjust="spacingAndGlyphs" >0.20&#8722;0.25</text>
<circle cx="89.4" cy="689.95" r="6.3" fill="#fff" stroke="#000" stroke-width="1.1"/>
<text x="89.40" y="694.25" font-family="'Liberation Serif', serif" font-weight="bold" font-size="13" text-anchor="middle" >6</text>
<line x1="99.00" y1="689.95" x2="111.00" y2="689.95" stroke="#aae022" stroke-width="2.6" />
<text x="113.60" y="694.55" font-family="'Liberation Serif', serif" font-weight="bold" font-size="14.6" text-anchor="start" textLength="55.1" lengthAdjust="spacingAndGlyphs" >0.25&#8722;0.30</text>
<circle cx="89.4" cy="708.86" r="6.3" fill="#fff" stroke="#000" stroke-width="1.1"/>
<text x="89.40" y="713.16" font-family="'Liberation Serif', serif" font-weight="bold" font-size="13" text-anchor="middle" >7</text>
<line x1="99.00" y1="708.86" x2="111.00" y2="708.86" stroke="#222222" stroke-width="2.6" />
<text x="113.60" y="713.46" font-family="'Liberation Serif', serif" font-weight="bold" font-size="14.6" text-anchor="start" textLength="55.1" lengthAdjust="spacingAndGlyphs" >0.30&#8722;0.35</text>
<circle cx="89.4" cy="727.77" r="6.3" fill="#fff" stroke="#000" stroke-width="1.1"/>
<text x="89.40" y="732.07" font-family="'Liberation Serif', serif" font-weight="bold" font-size="13" text-anchor="middle" >8</text>
<line x1="99.00" y1="727.77" x2="111.00" y2="727.77" stroke="#8080e8" stroke-width="2.6" />
<text x="113.60" y="732.37" font-family="'Liberation Serif', serif" font-weight="bold" font-size="14.6" text-anchor="start" textLength="55.1" lengthAdjust="spacingAndGlyphs" >0.35&#8722;0.40</text>
<circle cx="89.4" cy="746.68" r="6.3" fill="#fff" stroke="#000" stroke-width="1.1"/>
<text x="89.40" y="750.98" font-family="'Liberation Serif', serif" font-weight="bold" font-size="13" text-anchor="middle" >9</text>
<line x1="99.00" y1="746.68" x2="111.00" y2="746.68" stroke="#44bb44" stroke-width="2.6" />
<text x="113.60" y="751.28" font-family="'Liberation Serif', serif" font-weight="bold" font-size="14.6" text-anchor="start" textLength="55.1" lengthAdjust="spacingAndGlyphs" >0.40&#8722;0.45</text>
<circle cx="89.4" cy="765.59" r="6.3" fill="#fff" stroke="#000" stroke-width="1.1"/>
<text x="89.40" y="769.49" font-family="'Liberation Serif', serif" font-weight="bold" font-size="12" text-anchor="middle" textLength="10.2" lengthAdjust="spacingAndGlyphs" >10</text>
<line x1="99.00" y1="765.59" x2="111.00" y2="765.59" stroke="#dd3311" stroke-width="2.6" />
<text x="113.60" y="770.19" font-family="'Liberation Serif', serif" font-weight="bold" font-size="14.6" text-anchor="start" textLength="55.1" lengthAdjust="spacingAndGlyphs" >0.45&#8722;0.50</text>
<circle cx="89.4" cy="784.50" r="6.3" fill="#fff" stroke="#000" stroke-width="1.1"/>
<text x="89.40" y="788.40" font-family="'Liberation Serif', serif" font-weight="bold" font-size="12" text-anchor="middle" textLength="10.2" lengthAdjust="spacingAndGlyphs" >11</text>
<line x1="99.00" y1="784.50" x2="111.00" y2="784.50" stroke="#66eebb" stroke-width="2.6" />
<text x="113.60" y="789.10" font-family="'Liberation Serif', serif" font-weight="bold" font-size="14.6" text-anchor="start" textLength="55.1" lengthAdjust="spacingAndGlyphs" >0.50&#8722;0.55</text>
<circle cx="89.4" cy="803.41" r="6.3" fill="#fff" stroke="#000" stroke-width="1.1"/>
<text x="89.40" y="807.31" font-family="'Liberation Serif', serif" font-weight="bold" font-size="12" text-anchor="middle" textLength="10.2" lengthAdjust="spacingAndGlyphs" >12</text>
<line x1="99.00" y1="803.41" x2="111.00" y2="803.41" stroke="#e070e0" stroke-width="2.6" />
<text x="113.60" y="808.01" font-family="'Liberation Serif', serif" font-weight="bold" font-size="14.6" text-anchor="start" textLength="31.4" lengthAdjust="spacingAndGlyphs" >&gt;0.55</text>
<text x="83.40" y="556.60" font-family="'Liberation Serif', serif" font-weight="bold" font-size="20.2" text-anchor="start" textLength="85.5" lengthAdjust="spacingAndGlyphs" >formation</text>
<text x="83.40" y="574.20" font-family="'Liberation Serif', serif" font-weight="bold" font-size="20.2" text-anchor="start" textLength="94.2" lengthAdjust="spacingAndGlyphs" >time (Myr)</text>
<text x="96.20" y="472.50" font-family="'Liberation Sans', sans-serif" font-weight="normal" font-size="19.5" text-anchor="start" textLength="21.5" lengthAdjust="spacingAndGlyphs" >(b)</text>
<text x="438.40" y="465.20" font-family="'Liberation Serif', serif" font-weight="bold" font-size="21.6" text-anchor="start" textLength="138.6" lengthAdjust="spacingAndGlyphs" >1 Myr-old disk</text>
<text x="60.60" y="441.60" font-family="'Liberation Serif', serif" font-weight="bold" font-size="22.5" text-anchor="end" textLength="11.0" lengthAdjust="spacingAndGlyphs" >1</text>
<text x="64.60" y="567.40" font-family="'Liberation Serif', serif" font-weight="bold" font-size="22.5" text-anchor="end" textLength="26.6" lengthAdjust="spacingAndGlyphs" >0.1</text>
<text x="65.30" y="700.60" font-family="'Liberation Serif', serif" font-weight="bold" font-size="22.5" text-anchor="end" textLength="36.6" lengthAdjust="spacingAndGlyphs" >0.01</text>
<text x="65.20" y="826.00" font-family="'Liberation Serif', serif" font-weight="bold" font-size="22.5" text-anchor="end" textLength="47.6" lengthAdjust="spacingAndGlyphs" >0.001</text>
<text x="71.90" y="845.50" font-family="'Liberation Serif', serif" font-weight="bold" font-size="22.5" text-anchor="middle" textLength="26.0" lengthAdjust="spacingAndGlyphs" >0.1</text>
<text x="230.20" y="845.50" font-family="'Liberation Serif', serif" font-weight="bold" font-size="22.5" text-anchor="middle" textLength="10.5" lengthAdjust="spacingAndGlyphs" >1</text>
<text x="390.30" y="845.50" font-family="'Liberation Serif', serif" font-weight="bold" font-size="22.5" text-anchor="middle" textLength="21.5" lengthAdjust="spacingAndGlyphs" >10</text>
<text x="549.80" y="846.00" font-family="'Liberation Serif', serif" font-weight="bold" font-size="22.5" text-anchor="middle" textLength="33.0" lengthAdjust="spacingAndGlyphs" >100</text>
<text x="289.30" y="866.50" font-family="'Liberation Serif', serif" font-weight="bold" font-size="21.3" text-anchor="start" textLength="127.0" lengthAdjust="spacingAndGlyphs" >distance (AU)</text>
<text transform="translate(15,618.2) rotate(-90)" x="0" y="0" font-family="'Liberation Serif', serif" font-weight="bold" font-size="21.8" text-anchor="middle" textLength="363" lengthAdjust="spacingAndGlyphs">fraction of surviving refractory objects</text></svg>
</body></html>
